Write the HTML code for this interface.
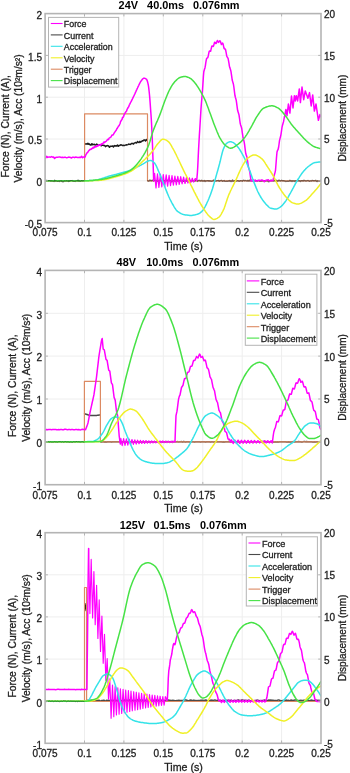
<!DOCTYPE html>
<html><head><meta charset="utf-8"><style>html,body{margin:0;padding:0;background:#fff;}svg{display:block;}</style></head><body>
<svg width="350" height="773" viewBox="0 0 350 773">
<rect width="350" height="773" fill="#fff"/>
<defs><clipPath id="c0"><rect x="45.1" y="13.6" width="275.9" height="209.0"/></clipPath></defs>
<path d="M84.5 13.6V222.6M123.9 13.6V222.6M163.3 13.6V222.6M202.8 13.6V222.6M242.2 13.6V222.6M281.6 13.6V222.6M45.1 180.8H321.0M45.1 139.0H321.0M45.1 97.2H321.0M45.1 55.4H321.0" stroke="#eeeeee" stroke-width="1" fill="none"/>
<g clip-path="url(#c0)" fill="none" stroke-width="1.5" stroke-linejoin="round" stroke-linecap="round">
<path d="M84.7 144L85.5 144.1L86.3 143.8L87.1 144.2L87.9 143.3L88.7 144.3L89.5 143.9L90.3 145L91.1 145.1L91.9 143.7L92.7 144.7L93.5 144.6L94.3 144.2L95.1 145L95.9 144.6L96.7 144.1L97.5 144.8L98.3 145L99.1 145.2L99.9 144.7L100.7 145.6L101.5 145.7L102.3 145L103.1 145.3L103.9 145.6L104.7 145.5L105.5 146.6L106.3 146L107.1 145.6L107.9 145.7L108.7 146.2L109.5 147.3L110.3 146.2L111.1 146.2L111.9 146.3L112.7 146L113.5 147L114.3 145.6L115.1 146.1L115.9 145.8L116.7 145.9L117.5 145L118.3 146.3L119.1 145.4L119.9 145.4L120.7 144.8L121.5 144.9L122.3 145.4L123.1 145.5L123.9 145.3L124.7 145.4L125.5 145.1L126.3 144.7L127.1 144.9L127.9 144.6L128.7 144.1L129.5 144.3L130.3 144.4L131.1 143.8L131.9 143.3L132.7 143.6L133.5 144L134.3 142.9L135.1 142.8L135.9 142.6L136.7 143L137.5 141.5L138.3 142.3L139.1 142.5L139.9 141.4L140.7 142.2L141.5 141.5L142.3 140.8L143.1 140.9L143.9 139.9L144.7 140.1L145.5 140.9L146.3 139.5L147.1 140.5" stroke="#1c1c1c"/>
<path d="M45.6 180.8L84.6 180.8L84.6 113.8L147.5 113.8L147.5 180.8L321 180.8" stroke="#dc8a62" stroke-width="1.2"/>
<path d="M147.8 180.8L148.5 181.2L149.2 180.8L149.9 179.9L150.6 180.6L151.3 180.9L152 180.3L152.7 180.3L153.4 180.9L154.1 180.5L154.8 180.1L155.5 180.5L156.2 181.1L156.9 180.6L157.6 181.2L158.3 181.4L159 180.8L159.7 180.3L160.4 180.3L161.1 180.8L161.8 181.2L162.5 180.9L163.2 181L163.9 180.6L164.6 180.9L165.3 180.6L166 180.7L166.7 180.3L167.4 180.2L168.1 180.6L168.8 180.4L169.5 180.4L170.2 181.1L170.9 180.8L171.6 182L172.3 181.2L173 180.5L173.7 181.1L174.4 180.9L175.1 180.5L175.8 181.2L176.5 180.5L177.2 179.6L177.9 181.1L178.6 180.6L179.3 181.4L180 180.5L180.7 180.3L181.4 181.4L182.1 180.4L182.8 180.9L183.5 181.4L184.2 180.8L184.9 180.8L185.6 180.8L186.3 181.1L187 180.5L187.7 181L188.4 181L189.1 181.7L189.8 180.7L190.5 180.4L191.2 181.1L191.9 180.6L192.6 180.9L193.3 180.9L194 181.3L194.7 180.5L195.4 180.8L196.1 179.8L196.8 180.4L197.5 181.4L198.2 180.5L198.9 180.5L199.6 180.3L200.3 181L201 180.9L201.7 180.3L202.4 181.1L203.1 180.9L203.8 181.1L204.5 180.5L205.2 181.5L205.9 181L206.6 180.8L207.3 180.6L208 180.7L208.7 181.1L209.4 180.7L210.1 181.2L210.8 181L211.5 181.3L212.2 181.1L212.9 180.8L213.6 180L214.3 180.9L215 181.1L215.7 180.9L216.4 181L217.1 180.6L217.8 180.6L218.5 180.4L219.2 181.3L219.9 180.9L220.6 180.6L221.3 180.3L222 180.7L222.7 181.4L223.4 181L224.1 180.5L224.8 181.4L225.5 181.4L226.2 181.2L226.9 181.1L227.6 181.3L228.3 181L229 181.1L229.7 180.5L230.4 181.4L231.1 180.9L231.8 181.6L232.5 180L233.2 181.1L233.9 181.2L234.6 180.7L235.3 181L236 181.1L236.7 181L237.4 180.6L238.1 180.7L238.8 181.2L239.5 181.3L240.2 180.8L240.9 180.8L241.6 180.9L242.3 181.2L243 180.4L243.7 180.3L244.4 180.8L245.1 180.4L245.8 180.6L246.5 180.8L247.2 181L247.9 180.4L248.6 181.1L249.3 180.1L250 181L250.7 180.2L251.4 180.3L252.1 181.1L252.8 180.6L253.5 180.5L254.2 180.6L254.9 181L255.6 180.8L256.3 180.8L257 181.2L257.7 180.5L258.4 180.6L259.1 180.6L259.8 181.3L260.5 181.2L261.2 181.3L261.9 180.8L262.6 180.7L263.3 181.1L264 180.6L264.7 181.1L265.4 181.1L266.1 180.5L266.8 180.8L267.5 180.8L268.2 181.5L268.9 181.8L269.6 180.8L270.3 180.8L271 179.9L271.7 180.9L272.4 180.8L273.1 180.4L273.8 181.1L274.5 180.2L275.2 180.7L275.9 180.9L276.6 180.3L277.3 181.1L278 181.2L278.7 180.2L279.4 180.2L280.1 181L280.8 180.8L281.5 180.3L282.2 180.7L282.9 180.8L283.6 180.7L284.3 181.1L285 181L285.7 181.5L286.4 181.3L287.1 181.1L287.8 181.2L288.5 181.3L289.2 181.1L289.9 180.3L290.6 181.1L291.3 180.8L292 181.4L292.7 180.8L293.4 181L294.1 180.9L294.8 181.5L295.5 180.9L296.2 180.7L296.9 180.9L297.6 180.6L298.3 180.9L299 180.8L299.7 180.9L300.4 181.6L301.1 180.6L301.8 180.8L302.5 180.7L303.2 181.1L303.9 180.3L304.6 180.5L305.3 180.8L306 181L306.7 180.8L307.4 180.6L308.1 180.5L308.8 181L309.5 181.4L310.2 180.9L310.9 180.9L311.6 181L312.3 180.4L313 180.7L313.7 180.7L314.4 180.9L315.1 180.8L315.8 180.3L316.5 181.3L317.2 181.5L317.9 180.7L318.6 181L319.3 180.9L320 181.1L320.7 180.2" stroke="#2a1a12" stroke-width="1.4" stroke-opacity="0.55"/>
<path d="M45.6 158L46.6 156.4L47.6 157.4L48.6 157.1L49.6 157.1L50.6 157.2L51.6 156.6L52.6 157.2L53.6 157L54.6 158.5L55.6 157.4L56.6 157.2L57.6 157.2L58.6 157.1L59.6 156.9L60.6 157.2L61.6 157.5L62.6 157.2L63.6 157.6L64.6 157.2L65.6 157.3L66.6 157.8L67.6 157.5L68.6 157.1L69.6 157.2L70.6 157.5L71.6 158L72.6 157.2L73.6 157.2L74.6 157.7L75.6 157L76.6 157.2L77.6 157.6L78.6 157.5L79.6 157.3L80.6 157.5L81.6 156.3L82.6 157.7L83.6 157L84.6 156.7L84.6 157.4L85.1 156.8L85.6 155.6L86.1 154.3L86.6 153.7L87.1 152.7L87.6 152.6L88.1 151.7L88.6 150.8L89.1 150.5L89.6 149.8L90.1 149.3L90.6 149.5L91.1 149.3L91.6 148.7L92.1 148.3L92.6 148.4L93.1 147.2L93.6 148L94.1 147.7L94.6 146.7L95.1 147L95.6 146.5L96.1 146.9L96.6 145.7L97.1 145.8L97.6 146.2L98.1 146.1L98.6 144.8L99.1 145.1L99.6 145.2L100.1 144.7L100.6 145.2L101.1 144L101.6 144.4L102.1 143.5L102.6 144L103.1 143.2L103.6 142.7L104.1 141.8L104.6 142.6L105.1 142L105.6 141.6L106.1 141.3L106.6 140.7L107.1 140L107.6 139.6L108.1 139.2L108.6 139.6L109.1 138.1L109.6 137.9L110.1 137.5L110.6 137.2L111.1 136.8L111.6 135.7L112.1 135L112.6 135.1L113.1 135L113.6 134.1L114.1 133.2L114.6 132.3L115.1 131.8L115.6 130.9L116.1 130.5L116.6 129.2L117.1 128.6L117.6 127.6L118.1 126.9L118.6 125.9L119.1 125.8L119.6 124.5L120.1 123.5L120.6 121.3L121.1 120.9L121.6 119.9L122.1 119.3L122.6 117.3L123.1 117.5L123.6 116.5L124.1 114.7L124.6 113.9L125.1 112.9L125.6 112.3L126.1 111.5L126.6 111L127.1 109.2L127.6 108.6L128.1 107.4L128.6 107L129.1 105.7L129.1 105.4L129.4 104.8L129.7 104.3L130 103.7L130.3 103.1L130.6 102.5L130.9 101.9L131.2 101.4L131.5 100.8L131.8 100.2L132.1 99.6L132.4 99L132.7 98.4L133 97.7L133.3 97.1L133.6 96.5L133.9 95.9L134.2 95.2L134.5 94.6L134.8 93.9L135.1 93.3L135.4 92.6L135.7 91.9L136 91.3L136.3 90.6L136.6 89.9L136.9 89.3L137.2 88.6L137.5 88L137.8 87.3L138.1 86.7L138.4 86.1L138.7 85.5L139 84.8L139.3 84.2L139.6 83.6L139.9 83L140.2 82.4L140.5 81.9L140.8 81.4L141.1 81L141.4 80.6L141.7 80.2L142 79.8L142.3 79.4L142.6 79.1L142.9 78.8L143.2 78.5L143.5 78.3L143.8 78.2L144.1 78.2L144.4 78.2L144.7 78.3L145 78.4L145.3 78.5L145.6 78.7L145.9 78.9L146.2 79.1L146.5 79.3L146.8 79.7L147.1 80.4L147.4 81.3L147.7 82.4L148 83.6L148.3 85L148.6 86.9L148.9 89.3L149.2 92L149.5 95L149.8 98.4L150.1 102.4L150.4 106.6L150.7 110.7L151 114.8L151.3 119.3L151.6 124.6L151.9 130.8L152.2 137.6L152.5 145.3L152.8 154L153.1 162.9L153.4 171.9L153.6 178L153.6 180.8" stroke="#ff00ff" stroke-width="1.5"/>
<path d="M153.6 180.8L154.6 173.4L156 187.9L157.5 173.8L158.9 187.5L160.4 174.2L161.8 187L163.3 174.5L164.7 186.6L166.2 174.9L167.6 186.1L169.1 175.3L170.5 185.7L172 175.6L173.4 185.2L174.9 176L176.3 184.8L177.8 176.4L179.2 184.4L180.7 176.7L182.1 183.9L183.6 177.1L185 183.5L186.5 177.4L187.9 183L189.4 177.8L190.8 182.6L192.3 178.2L193.7 182.1L195.2 178.5L196.6 180.2" stroke="#ff00ff" stroke-width="1.2"/>
<path d="M196.6 180.2L196.6 180.6L197 177.3L197.4 172.8L197.8 165.9L198.2 157.1L198.6 148.9L199 141.7L199.4 134.6L199.8 128.5L200.2 122L200.6 115.5L201 108.9L201.4 103.5L201.8 98.7L202.2 94L202.6 88.9L203 82.6L203.4 76.3L203.8 71.7L204.2 70.2L204.6 68.9L205 67.7L205.4 65.6L205.8 62.7L206.2 60.3L206.6 58.5L207 58.2L207.4 57.9L207.8 57.6L208.2 56L208.6 54.1L209 52.1L209.4 51.1L209.8 51.1L210.2 51.2L210.6 51.2L211 49.6L211.4 47.9L211.8 46.3L212.2 45.9L212.6 46.1L213 46.4L213.4 46.3L213.8 45L214.2 43.6L214.6 42.2L215 42.3L215.4 43L215.8 43.6L216.2 43.4L216.6 42.4L217 41.3L217.4 40.5L217.8 41.1L218.2 41.8L218.6 42.4L219 41.8L219.4 41.3L219.8 40.8L220.2 41L220.6 42.1L221 43.3L221.4 44.5L221.8 44L222.2 43.5L222.6 43.1L223 43.6L223.4 45.4L223.8 47.3L224.2 48.7L224.6 48.9L225 49L225.4 49.2L225.8 50.8L226.2 52.9L226.6 55.2L227 56.7L227.4 57.3L227.8 57.9L228.2 58.8L228.6 61.1L229 63.4L229.4 66.1L229.8 67.6L230.2 68.7L230.6 69.9L231 71.6L231.4 74.3L231.8 77.1L232.2 80L232.6 81.4L233 82.7L233.4 84.1L233.8 86.5L234.2 89.6L234.6 92.9L235 95.8L235.4 97.4L235.8 98.8L236.2 100.1L236.6 102.9L237 105.9L237.4 109L237.8 111.1L238.2 112.3L238.6 113.5L239 114.9L239.4 117.7L239.8 120.5L240.2 123.3L240.6 124.9L241 126L241.4 127.2L241.8 129L242.2 131.8L242.6 134.7L243 137.5L243.4 139L243.8 140.5L244.2 142.1L244.6 144.7L245 147.9L245.4 151.1L245.8 153.8L246.2 154.9L246.6 156.1L247 157.3L247.4 159.9L247.8 162.7L248.2 165.5L248.6 167.6L249 169L249.4 170.4L249.8 172L250.2 175L250.6 178L251 180.6L251.4 180.8L251.8 180.5L252.3 181.2L253.3 180L254.3 180.4L255.3 180.1L256.3 181.3L257.3 180.8L258.3 180.3L259.3 180.3L260.3 180.7L261.3 180.1L262.3 180L263.3 180.7L264.3 181.7L265.3 180.4L266.3 180.2L267.3 179.9L268.3 179.8L269.3 180.8L270.3 180.9L271.3 180.5L272.3 180.7L272.5 180.6L273 180.3L273.5 178.2L274 176.1L274.5 174.2L275 172.6L275.5 170.3L276 164L276.5 157.5L277 152L277.5 150.5L278 149.7L278.5 147.8L279 144.5L279.5 140.6L280 138.6L280.5 136.6L281 134.3L281.5 130.9L282 127.3L282.5 125.2L283 123.5L283.5 121.9L284 119.1L284.5 116.2L284.5 117L285.9 109.4L287 115.7L288.4 104L289.9 113.1L291.5 96L293 108L294.4 95.7L295.3 100.9L296.3 95.7L297.6 100.9L299.3 88.9L300.4 102.6L302 87L303.7 99.7L305.3 90.9L307.9 98.3L309.5 92.6L311.2 106L312.7 94.9L314.4 111.1L316 104L318.4 120.3L319.9 114.6L321 117" stroke="#ff00ff" stroke-width="1.5"/>
<path d="M45.6 180.8L46.2 180.8L46.8 180.8L47.4 180.8L48 180.8L48.6 180.8L49.2 180.8L49.8 180.8L50.4 180.8L51 180.8L51.6 180.8L52.2 180.8L52.8 180.8L53.4 180.8L54 180.8L54.6 180.8L55.2 180.8L55.8 180.8L56.4 180.8L57 180.8L57.6 180.8L58.2 180.8L58.8 180.8L59.4 180.8L60 180.8L60.6 180.8L61.2 180.8L61.8 180.8L62.4 180.8L63 180.8L63.6 180.8L64.2 180.8L64.8 180.8L65.4 180.8L66 180.8L66.6 180.8L67.2 180.8L67.8 180.8L68.4 180.8L69 180.8L69.6 180.8L70.2 180.8L70.8 180.8L71.4 180.8L72 180.8L72.6 180.8L73.2 180.8L73.8 180.8L74.4 180.8L75 180.8L75.6 180.8L76.2 180.8L76.8 180.8L77.4 180.8L78 180.8L78.6 180.8L79.2 180.8L79.8 180.8L80.4 180.8L81 180.8L81.6 180.8L82.2 180.8L82.8 180.8L83.4 180.8L84 180.8L84.6 180.8L85.2 180.8L85.8 180.8L86.4 180.8L87 180.8L87.6 180.7L88.2 180.7L88.8 180.7L89.4 180.6L90 180.6L90.6 180.6L91.2 180.5L91.8 180.5L92.4 180.4L93 180.4L93.6 180.3L94.2 180.3L94.8 180.2L95.4 180.2L96 180.1L96.6 180L97.2 179.9L97.8 179.7L98.4 179.6L99 179.5L99.6 179.3L100.2 179.1L100.8 178.9L101.4 178.7L102 178.5L102.6 178.3L103.2 178.1L103.8 177.9L104.4 177.7L105 177.5L105.6 177.3L106.2 177.1L106.8 176.9L107.4 176.7L108 176.5L108.6 176.3L109.2 176.1L109.8 176L110.4 175.8L111 175.7L111.6 175.5L112.2 175.3L112.8 175.2L113.4 175L114 174.9L114.6 174.7L115.2 174.6L115.8 174.4L116.4 174.3L117 174.1L117.6 174L118.2 173.8L118.8 173.6L119.4 173.5L120 173.3L120.6 173.1L121.2 173L121.8 172.8L122.4 172.6L123 172.5L123.6 172.3L124.2 172.1L124.8 172L125.4 171.8L126 171.6L126.6 171.4L127.2 171.3L127.8 171.1L128.4 170.9L129 170.7L129.6 170.5L130.2 170.2L130.8 170L131.4 169.8L132 169.5L132.6 169.3L133.2 169L133.8 168.7L134.4 168.4L135 168.1L135.6 167.8L136.2 167.5L136.8 167.2L137.4 166.9L138 166.6L138.6 166.3L139.2 166L139.8 165.7L140.4 165.4L141 165.1L141.6 164.7L142.2 164.4L142.8 164.1L143.4 163.7L144 163.4L144.6 163L145.2 162.6L145.8 162.2L146.4 161.9L147 161.5L147.6 161.3L148.2 161L148.8 160.8L149.4 160.6L150 160.4L150.6 160.4L151.2 160.5L151.8 160.8L152.4 161.2L153 161.6L153.6 162.2L154.2 162.8L154.8 163.4L155.4 164.3L156 165.3L156.6 166.6L157.2 168L157.8 169.4L158.4 170.9L159 172.3L159.6 173.7L160.2 175.1L160.8 176.6L161.4 178.1L162 179.7L162.6 181.2L163.2 182.7L163.8 184.3L164.4 185.8L165 187.3L165.6 188.9L166.2 190.4L166.8 191.9L167.4 193.4L168 194.8L168.6 196.2L169.2 197.5L169.8 198.8L170.4 200L171 201.2L171.6 202.4L172.2 203.5L172.8 204.5L173.4 205.5L174 206.6L174.6 207.6L175.2 208.5L175.8 209.4L176.4 210.2L177 210.9L177.6 211.4L178.2 211.8L178.8 212.2L179.4 212.6L180 213L180.6 213.3L181.2 213.7L181.8 213.9L182.4 214.2L183 214.4L183.6 214.6L184.2 214.7L184.8 214.8L185.4 214.9L186 215L186.6 215.1L187.2 215.1L187.8 215.2L188.4 215.3L189 215.3L189.6 215.4L190.2 215.4L190.8 215.4L191.4 215.4L192 215.4L192.6 215.3L193.2 215.2L193.8 215.1L194.4 215L195 214.9L195.6 214.7L196.2 214.6L196.8 214.4L197.4 214.2L198 214L198.6 213.8L199.2 213.5L199.8 213.1L200.4 212.6L201 212.1L201.6 211.6L202.2 211L202.8 210.4L203.4 209.6L204 208.7L204.6 207.6L205.2 206.5L205.8 205.3L206.4 204.1L207 202.8L207.6 201.5L208.2 200.2L208.8 198.8L209.4 197.3L210 195.8L210.6 194.2L211.2 192.5L211.8 190.8L212.4 189L213 187L213.6 185L214.2 182.9L214.8 180.8L215.4 178.6L216 176.5L216.6 174.4L217.2 172.3L217.8 170.2L218.4 168L219 165.8L219.6 163.6L220.2 161.3L220.8 158.7L221.4 156.1L222 153.7L222.6 151.4L223.2 149.5L223.8 148.1L224.4 146.8L225 145.6L225.6 144.6L226.2 143.7L226.8 143.1L227.4 142.8L228 142.4L228.6 142.1L229.2 141.9L229.8 141.8L230.4 141.7L231 141.8L231.6 141.9L232.2 142.2L232.8 142.4L233.4 142.7L234 143.1L234.6 143.5L235.2 144.1L235.8 144.6L236.4 145.3L237 146L237.6 146.7L238.2 147.4L238.8 148.2L239.4 149.1L240 150L240.6 151L241.2 152L241.8 153.1L242.4 154.2L243 155.3L243.6 156.4L244.2 157.6L244.8 158.8L245.4 160.1L246 161.4L246.6 162.8L247.2 164.2L247.8 165.6L248.4 167.1L249 168.6L249.6 170.2L250.2 171.8L250.8 173.5L251.4 175.3L252 177L252.6 178.7L253.2 180.4L253.8 181.9L254.4 183.4L255 184.9L255.6 186.4L256.2 187.9L256.8 189.3L257.4 190.7L258 192L258.6 193.2L259.2 194.4L259.8 195.4L260.4 196.5L261 197.5L261.6 198.4L262.2 199.3L262.8 200.2L263.4 201L264 201.8L264.6 202.6L265.2 203.3L265.8 204L266.4 204.6L267 205.2L267.6 205.8L268.2 206.4L268.8 207L269.4 207.5L270 207.9L270.6 208.2L271.2 208.3L271.8 208.5L272.4 208.6L273 208.7L273.6 208.8L274.2 208.9L274.8 209L275.4 209L276 209L276.6 208.9L277.2 208.8L277.8 208.6L278.4 208.2L279 207.9L279.6 207.5L280.2 207.1L280.8 206.6L281.4 206.2L282 205.7L282.6 205L283.2 204.3L283.8 203.6L284.4 202.8L285 202L285.6 201.2L286.2 200.3L286.8 199.3L287.4 198.3L288 197.3L288.6 196.3L289.2 195.2L289.8 194.1L290.4 193.1L291 192L291.6 190.9L292.2 189.8L292.8 188.7L293.4 187.6L294 186.4L294.6 185.3L295.2 184.2L295.8 183.1L296.4 182L297 181L297.6 180L298.2 179L298.8 178.1L299.4 177.1L300 176.2L300.6 175.3L301.2 174.4L301.8 173.5L302.4 172.7L303 172L303.6 171.3L304.2 170.6L304.8 169.9L305.4 169.3L306 168.6L306.6 168L307.2 167.5L307.8 166.9L308.4 166.5L309 166L309.6 165.6L310.2 165.1L310.8 164.7L311.4 164.3L312 163.9L312.6 163.5L313.2 163.2L313.8 162.9L314.4 162.7L315 162.6L315.6 162.5L316.2 162.4L316.8 162.3L317.4 162.2L318 162.2L318.6 162.1L319.2 162.1L319.8 162L320.4 162L321 162" stroke="#35e3e8"/>
<path d="M45.6 180.8L46.2 180.8L46.8 180.8L47.4 180.8L48 180.8L48.6 180.8L49.2 180.8L49.8 180.8L50.4 180.8L51 180.8L51.6 180.8L52.2 180.8L52.8 180.8L53.4 180.8L54 180.8L54.6 180.8L55.2 180.8L55.8 180.8L56.4 180.8L57 180.8L57.6 180.8L58.2 180.8L58.8 180.8L59.4 180.8L60 180.8L60.6 180.8L61.2 180.8L61.8 180.8L62.4 180.8L63 180.8L63.6 180.8L64.2 180.8L64.8 180.8L65.4 180.8L66 180.8L66.6 180.8L67.2 180.8L67.8 180.8L68.4 180.8L69 180.8L69.6 180.8L70.2 180.8L70.8 180.8L71.4 180.8L72 180.8L72.6 180.8L73.2 180.8L73.8 180.8L74.4 180.8L75 180.8L75.6 180.8L76.2 180.8L76.8 180.8L77.4 180.8L78 180.8L78.6 180.8L79.2 180.8L79.8 180.8L80.4 180.8L81 180.8L81.6 180.8L82.2 180.8L82.8 180.8L83.4 180.8L84 180.8L84.6 180.8L85.2 180.8L85.8 180.8L86.4 180.8L87 180.8L87.6 180.8L88.2 180.8L88.8 180.8L89.4 180.7L90 180.7L90.6 180.7L91.2 180.7L91.8 180.7L92.4 180.7L93 180.6L93.6 180.6L94.2 180.6L94.8 180.6L95.4 180.5L96 180.5L96.6 180.5L97.2 180.4L97.8 180.4L98.4 180.4L99 180.4L99.6 180.3L100.2 180.3L100.8 180.2L101.4 180.2L102 180.1L102.6 180L103.2 179.9L103.8 179.8L104.4 179.7L105 179.6L105.6 179.5L106.2 179.4L106.8 179.2L107.4 179.1L108 178.9L108.6 178.8L109.2 178.6L109.8 178.4L110.4 178.3L111 178.1L111.6 177.9L112.2 177.8L112.8 177.6L113.4 177.4L114 177.3L114.6 177.1L115.2 176.9L115.8 176.8L116.4 176.6L117 176.5L117.6 176.3L118.2 176.1L118.8 175.9L119.4 175.8L120 175.6L120.6 175.4L121.2 175.2L121.8 175L122.4 174.8L123 174.6L123.6 174.4L124.2 174.2L124.8 174L125.4 173.8L126 173.5L126.6 173.3L127.2 173L127.8 172.8L128.4 172.5L129 172.2L129.6 171.9L130.2 171.6L130.8 171.3L131.4 171L132 170.6L132.6 170.2L133.2 169.8L133.8 169.4L134.4 168.9L135 168.5L135.6 168L136.2 167.4L136.8 166.9L137.4 166.4L138 165.8L138.6 165.3L139.2 164.7L139.8 164.1L140.4 163.6L141 163L141.6 162.4L142.2 161.8L142.8 161.2L143.4 160.7L144 160.1L144.6 159.5L145.2 159L145.8 158.4L146.4 157.8L147 157.2L147.6 156.6L148.2 156L148.8 155.4L149.4 154.7L150 154.1L150.6 153.4L151.2 152.8L151.8 152.1L152.4 151.3L153 150.6L153.6 149.8L154.2 149L154.8 148.1L155.4 147.1L156 146.2L156.6 145.3L157.2 144.5L157.8 143.7L158.4 143.1L159 142.4L159.6 141.7L160.2 141L160.8 140.4L161.4 139.9L162 139.5L162.6 139.2L163.2 139.2L163.8 139.3L164.4 139.4L165 139.6L165.6 139.9L166.2 140.2L166.8 140.5L167.4 140.9L168 141.3L168.6 141.8L169.2 142.5L169.8 143.3L170.4 144.2L171 145.2L171.6 146.2L172.2 147.3L172.8 148.3L173.4 149.4L174 150.5L174.6 151.6L175.2 152.8L175.8 154L176.4 155.2L177 156.5L177.6 157.7L178.2 159L178.8 160.2L179.4 161.5L180 162.8L180.6 164.1L181.2 165.4L181.8 166.7L182.4 167.9L183 169.1L183.6 170.4L184.2 171.6L184.8 172.8L185.4 174L186 175.1L186.6 176.3L187.2 177.5L187.8 178.7L188.4 179.9L189 181.1L189.6 182.3L190.2 183.5L190.8 184.8L191.4 186L192 187.2L192.6 188.4L193.2 189.7L193.8 190.9L194.4 192.1L195 193.2L195.6 194.4L196.2 195.6L196.8 196.7L197.4 197.9L198 199L198.6 200.1L199.2 201.3L199.8 202.4L200.4 203.4L201 204.5L201.6 205.5L202.2 206.5L202.8 207.4L203.4 208.3L204 209.3L204.6 210.2L205.2 211.1L205.8 212L206.4 212.8L207 213.6L207.6 214.4L208.2 215.1L208.8 215.7L209.4 216.3L210 216.8L210.6 217.4L211.2 217.9L211.8 218.4L212.4 218.9L213 219.2L213.6 219.4L214.2 219.4L214.8 219.3L215.4 219.2L216 218.9L216.6 218.6L217.2 218.3L217.8 217.9L218.4 217.5L219 217.1L219.6 216.5L220.2 215.7L220.8 214.8L221.4 213.8L222 212.7L222.6 211.6L223.2 210.4L223.8 209.1L224.4 207.6L225 205.9L225.6 204.1L226.2 202.3L226.8 200.4L227.4 198.6L228 196.9L228.6 195.3L229.2 193.9L229.8 192.6L230.4 191.2L231 190L231.6 188.7L232.2 187.5L232.8 186.3L233.4 185.1L234 183.9L234.6 182.7L235.2 181.4L235.8 180.2L236.4 178.9L237 177.5L237.6 176.2L238.2 174.8L238.8 173.4L239.4 172.1L240 170.8L240.6 169.5L241.2 168.2L241.8 167.1L242.4 166L243 164.9L243.6 163.9L244.2 162.8L244.8 161.8L245.4 160.9L246 160L246.6 159.3L247.2 158.6L247.8 158.1L248.4 157.7L249 157.3L249.6 156.8L250.2 156.4L250.8 156.1L251.4 155.7L252 155.5L252.6 155.2L253.2 155L253.8 154.9L254.4 154.9L255 154.9L255.6 155L256.2 155.2L256.8 155.5L257.4 155.7L258 156.1L258.6 156.4L259.2 156.8L259.8 157.2L260.4 157.6L261 158.1L261.6 158.5L262.2 159.1L262.8 159.7L263.4 160.5L264 161.3L264.6 162.2L265.2 163.1L265.8 164.1L266.4 165L267 166L267.6 166.9L268.2 167.8L268.8 168.7L269.4 169.7L270 170.6L270.6 171.5L271.2 172.5L271.8 173.5L272.4 174.5L273 175.5L273.6 176.5L274.2 177.7L274.8 178.8L275.4 180L276 181.3L276.6 182.5L277.2 183.7L277.8 184.9L278.4 186L279 187L279.6 188L280.2 188.9L280.8 189.9L281.4 190.8L282 191.7L282.6 192.5L283.2 193.4L283.8 194.2L284.4 195L285 195.7L285.6 196.5L286.2 197.1L286.8 197.8L287.4 198.4L288 199L288.6 199.7L289.2 200.3L289.8 200.8L290.4 201.4L291 201.9L291.6 202.3L292.2 202.7L292.8 202.9L293.4 203.1L294 203.3L294.6 203.5L295.2 203.6L295.8 203.8L296.4 203.9L297 203.9L297.6 204L298.2 204L298.8 203.9L299.4 203.8L300 203.6L300.6 203.4L301.2 203.2L301.8 202.9L302.4 202.5L303 202.2L303.6 201.8L304.2 201.5L304.8 201.1L305.4 200.7L306 200.3L306.6 199.8L307.2 199.3L307.8 198.7L308.4 198.1L309 197.5L309.6 196.8L310.2 196.2L310.8 195.5L311.4 194.8L312 194.1L312.6 193.4L313.2 192.8L313.8 192.1L314.4 191.5L315 190.8L315.6 190.1L316.2 189.4L316.8 188.7L317.4 188L318 187.2L318.6 186.5L319.2 185.8L319.8 185L320.4 184.3L321 183.5" stroke="#f0f028"/>
<path d="M45.6 180.8L46.2 180.8L46.8 180.8L47.4 180.8L48 180.8L48.6 180.8L49.2 180.8L49.8 180.8L50.4 180.8L51 180.8L51.6 180.8L52.2 180.8L52.8 180.8L53.4 180.8L54 180.8L54.6 180.8L55.2 180.8L55.8 180.8L56.4 180.8L57 180.8L57.6 180.8L58.2 180.8L58.8 180.8L59.4 180.8L60 180.8L60.6 180.8L61.2 180.8L61.8 180.8L62.4 180.8L63 180.8L63.6 180.8L64.2 180.8L64.8 180.8L65.4 180.8L66 180.8L66.6 180.8L67.2 180.8L67.8 180.8L68.4 180.8L69 180.8L69.6 180.8L70.2 180.8L70.8 180.8L71.4 180.8L72 180.8L72.6 180.8L73.2 180.8L73.8 180.8L74.4 180.8L75 180.8L75.6 180.8L76.2 180.8L76.8 180.8L77.4 180.8L78 180.8L78.6 180.8L79.2 180.8L79.8 180.8L80.4 180.8L81 180.8L81.6 180.8L82.2 180.8L82.8 180.8L83.4 180.8L84 180.8L84.6 180.8L85.2 180.8L85.8 180.8L86.4 180.8L87 180.8L87.6 180.7L88.2 180.7L88.8 180.7L89.4 180.6L90 180.6L90.6 180.6L91.2 180.5L91.8 180.5L92.4 180.4L93 180.4L93.6 180.3L94.2 180.2L94.8 180.2L95.4 180.1L96 180.1L96.6 180L97.2 179.9L97.8 179.9L98.4 179.8L99 179.7L99.6 179.6L100.2 179.6L100.8 179.5L101.4 179.4L102 179.3L102.6 179.2L103.2 179.1L103.8 179L104.4 178.9L105 178.7L105.6 178.6L106.2 178.5L106.8 178.3L107.4 178.2L108 178L108.6 177.9L109.2 177.7L109.8 177.6L110.4 177.4L111 177.2L111.6 177.1L112.2 176.9L112.8 176.7L113.4 176.6L114 176.4L114.6 176.2L115.2 176L115.8 175.9L116.4 175.7L117 175.5L117.6 175.4L118.2 175.2L118.8 175L119.4 174.8L120 174.7L120.6 174.5L121.2 174.3L121.8 174.1L122.4 173.9L123 173.7L123.6 173.4L124.2 173.2L124.8 173L125.4 172.8L126 172.5L126.6 172.2L127.2 172L127.8 171.7L128.4 171.4L129 171.1L129.6 170.8L130.2 170.5L130.8 170.1L131.4 169.7L132 169.2L132.6 168.7L133.2 168.2L133.8 167.6L134.4 167L135 166.4L135.6 165.7L136.2 165.1L136.8 164.4L137.4 163.7L138 163L138.6 162.3L139.2 161.5L139.8 160.7L140.4 159.9L141 159.1L141.6 158.2L142.2 157.2L142.8 156.3L143.4 155.3L144 154.4L144.6 153.3L145.2 152.3L145.8 151.2L146.4 150L147 148.8L147.6 147.6L148.2 146.2L148.8 144.8L149.4 143.1L150 141.3L150.6 139.2L151.2 137.1L151.8 135.1L152.4 133.1L153 131.3L153.6 129.6L154.2 128.1L154.8 126.6L155.4 125.2L156 123.8L156.6 122.4L157.2 121.1L157.8 119.7L158.4 118.3L159 116.9L159.6 115.4L160.2 113.9L160.8 112.3L161.4 110.6L162 108.9L162.6 107.1L163.2 105.4L163.8 103.7L164.4 102.1L165 100.5L165.6 99L166.2 97.5L166.8 96L167.4 94.5L168 93.1L168.6 91.8L169.2 90.5L169.8 89.4L170.4 88.3L171 87.2L171.6 86.2L172.2 85.2L172.8 84.3L173.4 83.5L174 82.7L174.6 81.9L175.2 81.3L175.8 80.7L176.4 80.1L177 79.5L177.6 79L178.2 78.5L178.8 78.1L179.4 77.7L180 77.5L180.6 77.3L181.2 77.1L181.8 77L182.4 76.8L183 76.7L183.6 76.6L184.2 76.5L184.8 76.5L185.4 76.5L186 76.6L186.6 76.8L187.2 77L187.8 77.2L188.4 77.4L189 77.7L189.6 78L190.2 78.3L190.8 78.7L191.4 79.1L192 79.7L192.6 80.3L193.2 80.9L193.8 81.6L194.4 82.3L195 83L195.6 83.7L196.2 84.5L196.8 85.4L197.4 86.3L198 87.2L198.6 88.2L199.2 89.2L199.8 90.2L200.4 91.2L201 92.2L201.6 93.3L202.2 94.4L202.8 95.5L203.4 96.7L204 97.9L204.6 99.1L205.2 100.4L205.8 101.8L206.4 103.3L207 104.9L207.6 106.5L208.2 108.1L208.8 109.8L209.4 111.4L210 113L210.6 114.6L211.2 116.3L211.8 117.9L212.4 119.6L213 121.2L213.6 122.9L214.2 124.5L214.8 126L215.4 127.5L216 129L216.6 130.5L217.2 132L217.8 133.4L218.4 134.8L219 136.1L219.6 137.3L220.2 138.3L220.8 139.4L221.4 140.4L222 141.3L222.6 142.2L223.2 143.1L223.8 143.8L224.4 144.5L225 145L225.6 145.5L226.2 146L226.8 146.4L227.4 146.9L228 147.2L228.6 147.6L229.2 147.9L229.8 148.1L230.4 148.2L231 148.2L231.6 148.1L232.2 148L232.8 147.7L233.4 147.4L234 147.1L234.6 146.7L235.2 146.3L235.8 145.9L236.4 145.4L237 145L237.6 144.5L238.2 144.1L238.8 143.6L239.4 143.1L240 142.6L240.6 142.1L241.2 141.5L241.8 140.9L242.4 140.2L243 139.5L243.6 138.9L244.2 138.1L244.8 137.4L245.4 136.6L246 135.7L246.6 134.8L247.2 133.8L247.8 132.8L248.4 131.8L249 130.8L249.6 129.7L250.2 128.7L250.8 127.7L251.4 126.6L252 125.5L252.6 124.4L253.2 123.2L253.8 122.1L254.4 120.9L255 119.8L255.6 118.7L256.2 117.6L256.8 116.7L257.4 115.8L258 114.9L258.6 114L259.2 113.1L259.8 112.2L260.4 111.4L261 110.6L261.6 109.9L262.2 109.3L262.8 108.7L263.4 108.3L264 108L264.6 107.7L265.2 107.5L265.8 107.2L266.4 107L267 106.8L267.6 106.6L268.2 106.4L268.8 106.2L269.4 106.1L270 106L270.6 105.9L271.2 105.8L271.8 105.8L272.4 105.8L273 105.9L273.6 106L274.2 106.2L274.8 106.4L275.4 106.7L276 107L276.6 107.3L277.2 107.6L277.8 107.9L278.4 108.2L279 108.6L279.6 109.1L280.2 109.7L280.8 110.3L281.4 110.9L282 111.6L282.6 112.3L283.2 113L283.8 113.8L284.4 114.5L285 115.3L285.6 116L286.2 116.8L286.8 117.6L287.4 118.4L288 119.3L288.6 120.2L289.2 121.1L289.8 121.9L290.4 122.8L291 123.7L291.6 124.5L292.2 125.3L292.8 126L293.4 126.7L294 127.4L294.6 128.1L295.2 128.8L295.8 129.5L296.4 130.1L297 130.8L297.6 131.4L298.2 132.1L298.8 132.7L299.4 133.4L300 134.1L300.6 134.8L301.2 135.4L301.8 136.1L302.4 136.8L303 137.4L303.6 138.1L304.2 138.7L304.8 139.3L305.4 139.9L306 140.5L306.6 141L307.2 141.6L307.8 142.1L308.4 142.6L309 143.1L309.6 143.6L310.2 144L310.8 144.5L311.4 144.9L312 145.4L312.6 145.8L313.2 146.1L313.8 146.5L314.4 146.8L315 147L315.6 147.2L316.2 147.4L316.8 147.6L317.4 147.8L318 148L318.6 148.1L319.2 148.3L319.8 148.4L320.4 148.5L321 148.5" stroke="#46e246"/>
<path d="M45.6 181L46.2 181L46.8 180.2L47.4 180.7L48 181L48.6 180.5L49.2 180.7L49.8 180.5L50.4 180.7L51 181.3L51.6 180.7L52.2 180.8L52.8 181.3L53.4 181.2L54 181.7L54.6 180L55.2 181.3L55.8 180.7L56.4 181L57 181.3L57.6 181.4L58.2 181.4L58.8 181L59.4 181.6L60 180.8L60.6 180.8L61.2 181.3L61.8 180.7L62.4 181.9L63 181.4L63.6 181.9L64.2 180.9L64.8 180.7L65.4 181L66 181.2L66.6 180.6L67.2 181.1L67.8 180.9L68.4 181.6L69 180.6L69.6 181.4L70.2 180.6L70.8 180.5L71.4 180.6L72 180.4L72.6 181L73.2 181.4L73.8 181L74.4 181.2L75 181.6L75.6 181L76.2 181L76.8 180.8L77.4 180.2L78 181.2L78.6 180.1L79.2 181.2L79.8 180.9L80.4 181.4L81 180.9L81.6 180.5L82.2 181.1L82.8 180.6L83.4 180.8L84 180.9" stroke="#1a2a1a" stroke-width="1.1" stroke-opacity="0.55"/>
</g>
<rect x="45.1" y="13.6" width="275.9" height="209.0" fill="none" stroke="#b4b4b4" stroke-width="1.6"/>
<path d="M84.5 222.6v-2.8M84.5 13.6v2.8M123.9 222.6v-2.8M123.9 13.6v2.8M163.3 222.6v-2.8M163.3 13.6v2.8M202.8 222.6v-2.8M202.8 13.6v2.8M242.2 222.6v-2.8M242.2 13.6v2.8M281.6 222.6v-2.8M281.6 13.6v2.8M45.1 180.8h2.8M321.0 180.8h-2.8M45.1 139.0h2.8M321.0 139.0h-2.8M45.1 97.2h2.8M321.0 97.2h-2.8M45.1 55.4h2.8M321.0 55.4h-2.8" stroke="#b4b4b4" stroke-width="1"/>
<g font-family='"Liberation Sans", Arial, sans-serif' font-size="10" fill="#1e1e1e" stroke="#1e1e1e" stroke-width="0.3">
<text x="42" y="227.9" text-anchor="end">-0.5</text>
<text x="324" y="227.0">-5</text>
<text x="42" y="186.1" text-anchor="end">0</text>
<text x="324" y="185.2">0</text>
<text x="42" y="144.3" text-anchor="end">0.5</text>
<text x="324" y="143.4">5</text>
<text x="42" y="102.5" text-anchor="end">1</text>
<text x="324" y="101.6">10</text>
<text x="42" y="60.7" text-anchor="end">1.5</text>
<text x="324" y="59.8">15</text>
<text x="42" y="18.9" text-anchor="end">2</text>
<text x="324" y="18.0">20</text>
<text x="45.1" y="236.4" text-anchor="middle">0.075</text>
<text x="84.5" y="236.4" text-anchor="middle">0.1</text>
<text x="123.9" y="236.4" text-anchor="middle">0.125</text>
<text x="163.3" y="236.4" text-anchor="middle">0.15</text>
<text x="202.8" y="236.4" text-anchor="middle">0.175</text>
<text x="242.2" y="236.4" text-anchor="middle">0.2</text>
<text x="281.6" y="236.4" text-anchor="middle">0.225</text>
<text x="321.0" y="236.4" text-anchor="middle">0.25</text>
<text x="183.5" y="249.9" text-anchor="middle" font-size="10.3" textLength="38.6" lengthAdjust="spacingAndGlyphs">Time (s)</text>
<text transform="translate(8.7 126.3) rotate(-90)" text-anchor="middle" font-size="10.25">Force (N), Current (A),</text>
<text transform="translate(22.1 118.4) rotate(-90)" text-anchor="middle" font-size="10.25">Velocity (m/s), Acc (10²m/s²)</text>
<text transform="translate(346.3 118.1) rotate(-90)" text-anchor="middle">Displacement (mm)</text>
</g>
<g font-family='"Liberation Sans", Arial, sans-serif' font-size="10.9" font-weight="bold" fill="#000">
<text x="118.6" y="9.2">24V</text>
<text x="147.1" y="9.2">40.0ms</text>
<text x="192.9" y="9.2">0.076mm</text>
</g>
<rect x="48.5" y="17.4" width="70.2" height="69.7" fill="#fff" stroke="#b4b4b4" stroke-width="1"/>
<g font-family='"Liberation Sans", Arial, sans-serif' font-size="8.9" fill="#1e1e1e" stroke="#1e1e1e" stroke-width="0.3">
<path d="M50.8 23.5H62.6" stroke="#ff00ff" stroke-width="1.1"/>
<text x="63.8" y="27.3">Force</text>
<path d="M50.8 34.9H62.6" stroke="#4a4a4a" stroke-width="1.1"/>
<text x="63.8" y="38.7">Current</text>
<path d="M50.8 46.3H62.6" stroke="#35e3e8" stroke-width="1.1"/>
<text x="63.8" y="50.1">Acceleration</text>
<path d="M50.8 57.8H62.6" stroke="#f0f028" stroke-width="1.1"/>
<text x="63.8" y="61.6">Velocity</text>
<path d="M50.8 69.2H62.6" stroke="#dc8a62" stroke-width="1.1"/>
<text x="63.8" y="73.0">Trigger</text>
<path d="M50.8 80.6H62.6" stroke="#46e246" stroke-width="1.1"/>
<text x="63.8" y="84.4">Displacement</text>
</g>
<defs><clipPath id="c1"><rect x="45.1" y="270.4" width="275.9" height="214.3"/></clipPath></defs>
<path d="M84.5 270.4V484.7M123.9 270.4V484.7M163.3 270.4V484.7M202.8 270.4V484.7M242.2 270.4V484.7M281.6 270.4V484.7M45.1 441.8H321.0M45.1 399.0H321.0M45.1 356.1H321.0M45.1 313.3H321.0" stroke="#eeeeee" stroke-width="1" fill="none"/>
<g clip-path="url(#c1)" fill="none" stroke-width="1.5" stroke-linejoin="round" stroke-linecap="round">
<path d="M84.6 413.7L85.4 414L86.2 414.2L87 414.5L87.8 414.8L88.6 415L89.4 415.3L90.2 415.5L91 415.5L91.8 415.5L92.6 415.6L93.4 415.6L94.2 415.6L95 415.6L95.8 415.5L96.6 415.4L97.4 415.3L98.2 415.2L99 415.1L99.8 415" stroke="#4a4a4a"/>
<path d="M100.6 441.8L101.6 441.9L102.6 441.8L103.6 441.7L104.6 442L105.6 441.7L106.6 441.9L107.6 441.8L108.6 441.8L109.6 441.7L110.6 441.7L111.6 441.9L112.6 441.8L113.6 441.8L114.6 441.8L115.6 441.8L116.6 441.7L117.6 441.7L118.6 441.8L119.6 441.7L120.6 441.7L121.6 441.8L122.6 441.8L123.6 441.8L124.6 442L125.6 441.9L126.6 441.9L127.6 441.8L128.6 441.7L129.6 441.7L130.6 441.8L131.6 441.6L132.6 441.7L133.6 441.9L134.6 442L135.6 441.9L136.6 441.7L137.6 441.8L138.6 441.7L139.6 441.9L140.6 441.8L141.6 441.9L142.6 442.1L143.6 441.9L144.6 442L145.6 441.8L146.6 441.8L147.6 441.9L148.6 442L149.6 441.7L150.6 441.8L151.6 441.7L152.6 441.8L153.6 441.9L154.6 441.8L155.6 441.7L156.6 441.7L157.6 441.8L158.6 441.9L159.6 441.9L160.6 441.8L161.6 441.7L162.6 442L163.6 441.8L164.6 441.8L165.6 441.9L166.6 441.6L167.6 441.8L168.6 441.8L169.6 441.8L170.6 441.9L171.6 441.8L172.6 441.6L173.6 441.8L174.6 441.8L175.6 441.8L176.6 441.7L177.6 441.6L178.6 441.9L179.6 441.8L180.6 441.8L181.6 441.6L182.6 442L183.6 441.5L184.6 441.8L185.6 442L186.6 441.8L187.6 441.8L188.6 441.7L189.6 441.9L190.6 441.7L191.6 441.8L192.6 441.8L193.6 441.7L194.6 441.9L195.6 441.7L196.6 441.7L197.6 441.8L198.6 441.8L199.6 441.8L200.6 441.9L201.6 441.8L202.6 441.7L203.6 441.7L204.6 441.8L205.6 441.9L206.6 441.8L207.6 441.8L208.6 441.8L209.6 441.7L210.6 441.9L211.6 441.7L212.6 441.8L213.6 441.9L214.6 441.7L215.6 441.8L216.6 441.6L217.6 441.7L218.6 441.7L219.6 441.8L220.6 441.7L221.6 441.8L222.6 442L223.6 441.8L224.6 441.9L225.6 441.8L226.6 441.8L227.6 441.7L228.6 441.6L229.6 441.8L230.6 442L231.6 441.8L232.6 441.7L233.6 442L234.6 441.8L235.6 441.7L236.6 441.7L237.6 441.7L238.6 441.8L239.6 442L240.6 441.8L241.6 441.7L242.6 441.7L243.6 441.8L244.6 441.6L245.6 441.8L246.6 441.9L247.6 441.8L248.6 441.9L249.6 441.7L250.6 441.6L251.6 441.9L252.6 441.9L253.6 441.6L254.6 441.8L255.6 441.8L256.6 441.9L257.6 441.8L258.6 441.7L259.6 441.8L260.6 441.8L261.6 441.8L262.6 441.6L263.6 441.5L264.6 441.7L265.6 441.6L266.6 441.8L267.6 441.9L268.6 441.8L269.6 441.8L270.6 441.8L271.6 441.9L272.6 441.7L273.6 441.9L274.6 441.9L275.6 441.8L276.6 441.9L277.6 441.7L278.6 441.9L279.6 441.7L280.6 441.7L281.6 441.7L282.6 441.8L283.6 441.7L284.6 441.8L285.6 441.7L286.6 441.9L287.6 442L288.6 441.8L289.6 442L290.6 441.9L291.6 442L292.6 441.8L293.6 441.6L294.6 441.9L295.6 441.8L296.6 441.7L297.6 441.7L298.6 441.6L299.6 441.8L300.6 441.7L301.6 441.9L302.6 441.9L303.6 441.6L304.6 441.6L305.6 441.7L306.6 441.6L307.6 441.8L308.6 441.8L309.6 441.7L310.6 441.7L311.6 441.8L312.6 441.9L313.6 441.9L314.6 441.8L315.6 441.9L316.6 441.7L317.6 441.8L318.6 441.7L319.6 441.9L320.6 441.7" stroke="#4a4a4a"/>
<path d="M45.6 441.8L84.4 441.8L84.4 381.4L100.4 381.4L100.4 441.8L321 441.8" stroke="#dc8a62" stroke-width="1.2"/>
<path d="M45.6 429.8L46.6 429.5L47.6 429.8L48.6 429.6L49.6 429.6L50.6 429.6L51.6 429.7L52.6 429.5L53.6 429.6L54.6 429.5L55.6 429.4L56.6 429.8L57.6 429.7L58.6 429.6L59.6 429.7L60.6 429.5L61.6 429.6L62.6 429.8L63.6 429.7L64.6 429.3L65.6 429.2L66.6 429.5L67.6 429.7L68.6 429.5L69.6 429.6L70.6 429.7L71.6 429.5L72.6 429.6L73.6 429.7L74.6 429.7L75.6 429.6L76.6 429.5L77.6 429.7L78.6 429.5L79.6 429.8L80.6 429.9L81.6 429.5L82.6 429.3L83.6 429.5L84.6 429.6L85.6 429.7L85.6 429.6L86 428.5L86.4 427.4L86.8 426.4L87.2 425.3L87.6 424.2L88 422.9L88.4 420.8L88.8 418.8L89.2 416.7L89.6 414.7L90 412.6L90.4 410.6L90.8 408.8L91.2 407.1L91.6 405.3L92 403.5L92.4 401.7L92.8 400L93.2 398.2L93.6 396.4L94 394.4L94.4 391.7L94.8 388.9L95.2 386.2L95.6 383.5L96 380.7L96.4 378L96.8 374.6L97.2 371.1L97.6 367.7L98 364.3L98.4 360.8L98.8 357.4L99.2 354.5L99.6 352.1L100 349.7L100.4 347.3L100.8 344.8L101.2 342.4L101.6 340L102.2 338.5L103.2 349.2L104.3 349.9L106 359.4L107.1 360.3L108.7 370.2L109.8 371.1L111.4 382.9L112.5 384.7L114.1 397.4L115.2 400.1L116.7 413L117.6 415.5L119.2 436L120.3 444L120.3 442.1" stroke="#ff00ff" stroke-width="1.5"/>
<path d="M120.3 442.1L120.8 438.3L122.2 445.7L123.6 438.6L125 445.4L126.4 438.9L127.8 445.1L129.2 439.2L130.6 444.7L132 439.5L133.4 444.4L134.8 439.8L136.2 444.1L137.6 440.1L139 443.7L140.4 440.4L141.8 443.5L143.2 440.5L144.6 443.4L146 440.6L147.4 443.2L148.8 440.8L150.2 443.1L151.6 440.9L153 442.9L154.4 441L155.8 442.8L157.2 441L158.6 442.8L160 441L161.4 442.7L162.8 441L164.2 442.7L165.6 441.1L167 442.6L168.4 441.1L169.8 442.6L171.2 441.1L172.6 442.5L174 441.1L175 441.8" stroke="#ff00ff" stroke-width="1.2"/>
<path d="M175 441.8L175 441.4L175.5 427.6L176 415.6L176.5 413.4L177 411.2L177.5 407.3L178 403.4L178.5 399.5L179 397.4L179.5 395.8L180 395L180.5 392.5L181 390L181.5 387.5L182 386.8L182.5 386L183 385.3L183.5 382.8L184 380.7L184.5 378.8L185 378.6L185.5 378.5L186 378.3L186.5 376.4L187 374.4L187.5 372.5L188 372.3L188.5 372.1L189 371.9L189.5 370L190 368.2L190.5 366.4L191 366.3L191.5 366.2L192 366.1L192.5 364.3L193 362.4L193.5 360.6L194 360.5L194.5 360.4L195 360.3L195.5 359L196 357.8L196.5 356.5L197 357L197.5 357.4L198 357.9L198.5 356.6L199 355.4L199.5 354.1L200 354.6L200.5 356L201 357.4L201.5 357.1L202 356.8L202.5 356.4L203 357.9L203.5 359.3L204 360.7L204.5 360.4L205 360.1L205.5 360.6L206 362.9L206.5 365.2L207 367.6L207.5 368.1L208 368.7L208.5 369.3L209 371.6L209.5 374.2L210 376.8L210.5 377.7L211 378.6L211.5 379.4L212 382.1L212.5 384.7L213 387.3L213.5 388.4L214 389.6L214.5 390.7L215 393.6L215.5 396.4L216 399.3L216.5 400.4L217 401.6L217.5 402.4L218 405.1L218.5 407.7L219 410.3L219.5 411.2L220 412.1L220.5 412.9L221 415.6L221.5 418.2L222 420.8L222.5 421.7L223 422.6L223.5 423.4L224 426.1L224.5 428.7L225 431.3L225.5 431.7L226 432.1L226.5 432.4L227 434.6L227.5 436.7L228 438.8L228.5 439.2L229 439.6L229.5 439.2L230 440.6L230.5 442L230.7 441.8L231.5 440L233.2 443.5L234.8 440.1L236.5 443.4L238.1 440.2L239.8 443.3L241.4 440.3L243.1 443.2L244.7 440.4L246.4 443.1L248 440.5L249.7 443L251.3 440.6L253 443L254.6 440.6L256.3 442.9L257.9 440.7L259.6 442.9L261.2 440.7L262.8 442.9L264.5 440.7L266.1 442.9L267.8 440.8L269.4 442.8L271.1 440.8L272.3 441.8L272.3 442.9L272.8 439L273.3 435L273.8 432L274.3 430.3L274.8 428.6L275.3 427.9L275.8 425.7L276.3 423.6L276.8 421.4L277.3 421.6L277.8 421.7L278.3 421.8L278.8 420.1L279.3 418.1L279.8 416.1L280.3 415.5L280.8 415.8L281.3 416L281.8 415.4L282.3 413.4L282.8 411.4L283.3 409.9L283.8 410.1L284.3 409.9L284.8 409.5L285.3 406.8L285.8 404.2L286.3 401.6L286.8 400.7L287.3 400.3L287.8 400.1L288.3 399L288.8 397L289.3 395L289.8 393.9L290.3 394.2L290.8 394.4L291.3 394.2L291.8 392.3L292.3 390.3L292.8 388.3L293.3 388.5L293.8 388.8L294.3 389L294.8 387.5L295.3 385.5L295.8 383.5L296.3 382.8L296.8 383.1L297.3 383.3L297.8 382.7L298.3 381.1L298.8 379.6L299.3 378.7L299.8 379.5L300.3 380.4L300.8 382.3L301.3 381.9L301.8 381.6L302.3 381.2L302.8 382.6L303.3 384.5L303.8 386.4L304.3 387L304.8 386.8L305.3 386.7L305.8 387.4L306.3 389.5L306.8 391.7L307.3 393.3L307.8 393.2L308.3 393.1L308.8 392.9L309.3 395L309.8 397.4L310.3 400L310.8 400.8L311.3 401.2L311.8 401.6L312.3 403.3L312.8 406L313.3 408.6L313.8 410.3L314.3 410.7L314.8 411.1L315.3 411.7L315.8 414.2L316.3 416.6L316.8 419L317.3 419.2L317.8 419.4L318.3 419.6L318.8 421.7L319.3 424.5L319.8 427.2L320.3 428.6L320.8 429.1" stroke="#ff00ff" stroke-width="1.5"/>
<path d="M45.6 441.8L46.2 441.8L46.8 441.8L47.4 441.8L48 441.8L48.6 441.8L49.2 441.8L49.8 441.8L50.4 441.8L51 441.8L51.6 441.8L52.2 441.8L52.8 441.8L53.4 441.8L54 441.8L54.6 441.8L55.2 441.8L55.8 441.8L56.4 441.8L57 441.8L57.6 441.8L58.2 441.8L58.8 441.8L59.4 441.8L60 441.8L60.6 441.8L61.2 441.8L61.8 441.8L62.4 441.8L63 441.8L63.6 441.8L64.2 441.8L64.8 441.8L65.4 441.8L66 441.8L66.6 441.8L67.2 441.8L67.8 441.8L68.4 441.8L69 441.8L69.6 441.8L70.2 441.8L70.8 441.8L71.4 441.8L72 441.8L72.6 441.8L73.2 441.8L73.8 441.7L74.4 441.7L75 441.7L75.6 441.7L76.2 441.7L76.8 441.7L77.4 441.7L78 441.7L78.6 441.7L79.2 441.7L79.8 441.7L80.4 441.7L81 441.7L81.6 441.7L82.2 441.7L82.8 441.7L83.4 441.7L84 441.7L84.6 441.7L85.2 441.7L85.8 441.7L86.4 441.7L87 441.7L87.6 441.6L88.2 441.6L88.8 441.6L89.4 441.6L90 441.6L90.6 441.6L91.2 441.6L91.8 441.6L92.4 441.6L93 441.4L93.6 441.2L94.2 440.9L94.8 440.6L95.4 440.3L96 440.1L96.6 439.8L97.2 439.4L97.8 439L98.4 438.6L99 438L99.6 437.3L100.2 436.6L100.8 435.8L101.4 434.9L102 434L102.6 433.1L103.2 432.1L103.8 431L104.4 429.8L105 428.6L105.6 427.4L106.2 426.2L106.8 425.1L107.4 424.1L108 423.1L108.6 422.1L109.2 421.2L109.8 420.3L110.4 419.5L111 418.9L111.6 418.4L112.2 418L112.8 417.6L113.4 417.3L114 417.1L114.6 416.9L115.2 416.9L115.8 416.9L116.4 417L117 417.2L117.6 417.3L118.2 417.5L118.8 417.8L119.4 418.3L120 419.1L120.6 420.1L121.2 421.2L121.8 422.4L122.4 423.6L123 425.1L123.6 426.8L124.2 428.5L124.8 430.2L125.4 431.8L126 433.2L126.6 434.7L127.2 436.2L127.8 437.6L128.4 439L129 440.4L129.6 441.9L130.2 443.4L130.8 444.9L131.4 446.3L132 447.7L132.6 448.9L133.2 450.1L133.8 451.2L134.4 452.2L135 453.3L135.6 454.2L136.2 455L136.8 455.7L137.4 456.4L138 457.1L138.6 457.7L139.2 458.2L139.8 458.8L140.4 459.2L141 459.6L141.6 460L142.2 460.3L142.8 460.6L143.4 460.8L144 461.1L144.6 461.3L145.2 461.5L145.8 461.7L146.4 461.8L147 462L147.6 462.2L148.2 462.3L148.8 462.5L149.4 462.6L150 462.7L150.6 462.9L151.2 463L151.8 463.1L152.4 463.2L153 463.2L153.6 463.3L154.2 463.3L154.8 463.4L155.4 463.4L156 463.4L156.6 463.5L157.2 463.5L157.8 463.5L158.4 463.6L159 463.6L159.6 463.6L160.2 463.6L160.8 463.6L161.4 463.6L162 463.6L162.6 463.5L163.2 463.5L163.8 463.4L164.4 463.3L165 463.2L165.6 463.1L166.2 463L166.8 462.9L167.4 462.7L168 462.6L168.6 462.4L169.2 462.2L169.8 461.9L170.4 461.6L171 461.2L171.6 460.9L172.2 460.5L172.8 460.1L173.4 459.8L174 459.4L174.6 459L175.2 458.6L175.8 458.1L176.4 457.7L177 457.2L177.6 456.8L178.2 456.3L178.8 455.8L179.4 455.3L180 454.8L180.6 454.3L181.2 453.8L181.8 453.3L182.4 452.9L183 452.4L183.6 451.9L184.2 451.4L184.8 450.8L185.4 450.2L186 449.6L186.6 449L187.2 448.3L187.8 447.4L188.4 446.5L189 445.5L189.6 444.5L190.2 443.4L190.8 442.2L191.4 441.1L192 439.9L192.6 438.8L193.2 437.6L193.8 436.5L194.4 435.2L195 434L195.6 432.7L196.2 431.5L196.8 430.2L197.4 428.9L198 427.7L198.6 426.5L199.2 425.4L199.8 424.3L200.4 423.3L201 422.3L201.6 421.3L202.2 420.3L202.8 419.3L203.4 418.4L204 417.5L204.6 416.8L205.2 416.1L205.8 415.6L206.4 415.2L207 414.9L207.6 414.5L208.2 414.2L208.8 413.9L209.4 413.6L210 413.4L210.6 413.2L211.2 413.1L211.8 413L212.4 413L213 413.2L213.6 413.4L214.2 413.7L214.8 414L215.4 414.4L216 414.8L216.6 415.2L217.2 415.6L217.8 416L218.4 416.5L219 417L219.6 417.5L220.2 418.1L220.8 418.7L221.4 419.3L222 420L222.6 420.8L223.2 421.6L223.8 422.6L224.4 423.6L225 424.7L225.6 425.8L226.2 427L226.8 428.2L227.4 429.3L228 430.5L228.6 431.6L229.2 432.7L229.8 433.7L230.4 434.6L231 435.5L231.6 436.5L232.2 437.4L232.8 438.3L233.4 439.1L234 440L234.6 440.8L235.2 441.6L235.8 442.3L236.4 443L237 443.7L237.6 444.3L238.2 445L238.8 445.6L239.4 446.2L240 446.8L240.6 447.4L241.2 448L241.8 448.5L242.4 449.1L243 449.5L243.6 450L244.2 450.5L244.8 450.9L245.4 451.3L246 451.6L246.6 452L247.2 452.3L247.8 452.7L248.4 453L249 453.3L249.6 453.6L250.2 453.8L250.8 454.1L251.4 454.3L252 454.5L252.6 454.7L253.2 454.9L253.8 455L254.4 455.2L255 455.4L255.6 455.6L256.2 455.7L256.8 455.9L257.4 456L258 456.2L258.6 456.3L259.2 456.4L259.8 456.5L260.4 456.5L261 456.6L261.6 456.6L262.2 456.6L262.8 456.6L263.4 456.5L264 456.4L264.6 456.3L265.2 456.2L265.8 456.1L266.4 456L267 455.8L267.6 455.6L268.2 455.5L268.8 455.3L269.4 455.2L270 455L270.6 454.8L271.2 454.7L271.8 454.5L272.4 454.4L273 454.2L273.6 454L274.2 453.8L274.8 453.6L275.4 453.4L276 453.2L276.6 453L277.2 452.7L277.8 452.5L278.4 452.2L279 452L279.6 451.7L280.2 451.4L280.8 451.1L281.4 450.7L282 450.3L282.6 449.9L283.2 449.4L283.8 448.9L284.4 448.5L285 448L285.6 447.5L286.2 447L286.8 446.5L287.4 446.1L288 445.6L288.6 445.2L289.2 444.8L289.8 444.5L290.4 444.1L291 443.7L291.6 443.4L292.2 442.9L292.8 442.5L293.4 442L294 441.4L294.6 440.7L295.2 439.9L295.8 439.1L296.4 438.1L297 437.2L297.6 436.2L298.2 435.2L298.8 434.3L299.4 433.4L300 432.5L300.6 431.7L301.2 430.8L301.8 429.9L302.4 429L303 428.2L303.6 427.4L304.2 426.7L304.8 426.2L305.4 425.7L306 425.2L306.6 424.8L307.2 424.3L307.8 423.9L308.4 423.6L309 423.3L309.6 423.1L310.2 422.9L310.8 422.9L311.4 422.9L312 422.9L312.6 423L313.2 423.1L313.8 423.1L314.4 423.2L315 423.3L315.6 423.4L316.2 423.5L316.8 423.7L317.4 424L318 424.3L318.6 424.7L319.2 425.1L319.8 425.5L320.4 426L321 426.5" stroke="#35e3e8"/>
<path d="M45.6 441.8L46.2 441.8L46.8 441.8L47.4 441.8L48 441.8L48.6 441.8L49.2 441.8L49.8 441.8L50.4 441.8L51 441.8L51.6 441.8L52.2 441.8L52.8 441.8L53.4 441.8L54 441.8L54.6 441.8L55.2 441.8L55.8 441.8L56.4 441.8L57 441.8L57.6 441.8L58.2 441.8L58.8 441.8L59.4 441.8L60 441.8L60.6 441.8L61.2 441.8L61.8 441.8L62.4 441.8L63 441.8L63.6 441.8L64.2 441.8L64.8 441.8L65.4 441.8L66 441.8L66.6 441.8L67.2 441.8L67.8 441.8L68.4 441.8L69 441.8L69.6 441.8L70.2 441.8L70.8 441.8L71.4 441.8L72 441.8L72.6 441.8L73.2 441.8L73.8 441.8L74.4 441.8L75 441.8L75.6 441.8L76.2 441.8L76.8 441.8L77.4 441.8L78 441.8L78.6 441.8L79.2 441.8L79.8 441.8L80.4 441.8L81 441.8L81.6 441.8L82.2 441.8L82.8 441.8L83.4 441.8L84 441.8L84.6 441.8L85.2 441.8L85.8 441.8L86.4 441.7L87 441.7L87.6 441.7L88.2 441.7L88.8 441.7L89.4 441.7L90 441.7L90.6 441.7L91.2 441.7L91.8 441.7L92.4 441.7L93 441.7L93.6 441.7L94.2 441.7L94.8 441.7L95.4 441.7L96 441.7L96.6 441.7L97.2 441.7L97.8 441.7L98.4 441.7L99 441.6L99.6 441.5L100.2 441.4L100.8 441.2L101.4 441L102 440.8L102.6 440.6L103.2 440.3L103.8 439.9L104.4 439.4L105 438.8L105.6 438.2L106.2 437.6L106.8 436.9L107.4 436.3L108 435.6L108.6 434.8L109.2 434L109.8 433.1L110.4 432.2L111 431.3L111.6 430.4L112.2 429.5L112.8 428.6L113.4 427.6L114 426.6L114.6 425.6L115.2 424.7L115.8 423.7L116.4 422.7L117 421.8L117.6 420.8L118.2 419.9L118.8 418.9L119.4 418L120 417.2L120.6 416.4L121.2 415.6L121.8 414.9L122.4 414.2L123 413.5L123.6 412.9L124.2 412.3L124.8 411.8L125.4 411.4L126 411L126.6 410.6L127.2 410.3L127.8 409.9L128.4 409.7L129 409.4L129.6 409.2L130.2 409.1L130.8 409.1L131.4 409.2L132 409.3L132.6 409.5L133.2 409.7L133.8 409.9L134.4 410.2L135 410.5L135.6 410.8L136.2 411.2L136.8 411.7L137.4 412.3L138 413L138.6 413.7L139.2 414.5L139.8 415.3L140.4 416.1L141 416.9L141.6 417.7L142.2 418.6L142.8 419.5L143.4 420.5L144 421.4L144.6 422.4L145.2 423.4L145.8 424.4L146.4 425.4L147 426.4L147.6 427.4L148.2 428.3L148.8 429.3L149.4 430.1L150 431L150.6 431.8L151.2 432.7L151.8 433.5L152.4 434.3L153 435.1L153.6 435.8L154.2 436.6L154.8 437.4L155.4 438.2L156 438.9L156.6 439.7L157.2 440.5L157.8 441.3L158.4 442.1L159 442.8L159.6 443.6L160.2 444.4L160.8 445.2L161.4 446L162 446.8L162.6 447.6L163.2 448.3L163.8 449.1L164.4 449.8L165 450.5L165.6 451.2L166.2 451.9L166.8 452.5L167.4 453.2L168 453.8L168.6 454.4L169.2 455.1L169.8 455.7L170.4 456.3L171 456.9L171.6 457.5L172.2 458.1L172.8 458.7L173.4 459.3L174 460L174.6 460.6L175.2 461.2L175.8 461.9L176.4 462.6L177 463.4L177.6 464.1L178.2 464.9L178.8 465.7L179.4 466.5L180 467.2L180.6 467.9L181.2 468.6L181.8 469.1L182.4 469.6L183 470L183.6 470.4L184.2 470.6L184.8 470.7L185.4 470.9L186 471L186.6 471.1L187.2 471.2L187.8 471.3L188.4 471.3L189 471.3L189.6 471.3L190.2 471.2L190.8 471.2L191.4 471.1L192 471L192.6 470.8L193.2 470.6L193.8 470.2L194.4 469.8L195 469.3L195.6 468.8L196.2 468.3L196.8 467.8L197.4 467.2L198 466.5L198.6 465.8L199.2 465.1L199.8 464.3L200.4 463.5L201 462.7L201.6 461.9L202.2 461.1L202.8 460.3L203.4 459.5L204 458.7L204.6 457.8L205.2 457L205.8 456.1L206.4 455.3L207 454.4L207.6 453.5L208.2 452.6L208.8 451.7L209.4 450.9L210 450L210.6 449.1L211.2 448.3L211.8 447.5L212.4 446.7L213 445.8L213.6 445L214.2 444.1L214.8 443.2L215.4 442.3L216 441.3L216.6 440.2L217.2 439.1L217.8 437.9L218.4 436.6L219 435.4L219.6 434.2L220.2 433L220.8 431.9L221.4 430.9L222 430L222.6 429.2L223.2 428.4L223.8 427.6L224.4 426.8L225 426.1L225.6 425.4L226.2 424.8L226.8 424.3L227.4 423.8L228 423.5L228.6 423.2L229.2 423L229.8 422.7L230.4 422.5L231 422.3L231.6 422.1L232.2 421.9L232.8 421.7L233.4 421.6L234 421.4L234.6 421.3L235.2 421.3L235.8 421.2L236.4 421.2L237 421.2L237.6 421.3L238.2 421.5L238.8 421.7L239.4 421.9L240 422.1L240.6 422.4L241.2 422.6L241.8 422.9L242.4 423.2L243 423.5L243.6 423.9L244.2 424.2L244.8 424.7L245.4 425.1L246 425.6L246.6 426L247.2 426.5L247.8 427L248.4 427.5L249 428.1L249.6 428.7L250.2 429.3L250.8 429.9L251.4 430.6L252 431.2L252.6 431.9L253.2 432.6L253.8 433.2L254.4 433.9L255 434.5L255.6 435.1L256.2 435.7L256.8 436.4L257.4 437L258 437.6L258.6 438.2L259.2 438.8L259.8 439.4L260.4 440L261 440.7L261.6 441.3L262.2 441.9L262.8 442.5L263.4 443.2L264 443.8L264.6 444.5L265.2 445.1L265.8 445.8L266.4 446.4L267 447.1L267.6 447.7L268.2 448.3L268.8 448.9L269.4 449.5L270 450L270.6 450.5L271.2 451L271.8 451.6L272.4 452.1L273 452.6L273.6 453.1L274.2 453.6L274.8 454L275.4 454.5L276 454.9L276.6 455.4L277.2 455.8L277.8 456.2L278.4 456.6L279 456.9L279.6 457.3L280.2 457.6L280.8 457.9L281.4 458.2L282 458.6L282.6 458.9L283.2 459.1L283.8 459.4L284.4 459.6L285 459.8L285.6 459.9L286.2 460L286.8 460.1L287.4 460.2L288 460.3L288.6 460.3L289.2 460.4L289.8 460.4L290.4 460.5L291 460.5L291.6 460.6L292.2 460.6L292.8 460.6L293.4 460.6L294 460.6L294.6 460.5L295.2 460.3L295.8 460.1L296.4 459.9L297 459.6L297.6 459.3L298.2 459L298.8 458.6L299.4 458.3L300 458L300.6 457.7L301.2 457.3L301.8 456.9L302.4 456.5L303 456.1L303.6 455.7L304.2 455.2L304.8 454.7L305.4 454.3L306 453.8L306.6 453.3L307.2 452.8L307.8 452.4L308.4 451.9L309 451.4L309.6 450.9L310.2 450.4L310.8 449.8L311.4 449.3L312 448.8L312.6 448.2L313.2 447.7L313.8 447.2L314.4 446.6L315 446.1L315.6 445.6L316.2 445L316.8 444.5L317.4 443.9L318 443.3L318.6 442.8L319.2 442.2L319.8 441.7L320.4 441.1L321 440.5" stroke="#f0f028"/>
<path d="M45.6 441.8L46.2 441.8L46.8 441.8L47.4 441.8L48 441.8L48.6 441.8L49.2 441.8L49.8 441.8L50.4 441.8L51 441.8L51.6 441.8L52.2 441.8L52.8 441.8L53.4 441.8L54 441.8L54.6 441.8L55.2 441.8L55.8 441.8L56.4 441.8L57 441.8L57.6 441.8L58.2 441.8L58.8 441.8L59.4 441.8L60 441.8L60.6 441.8L61.2 441.8L61.8 441.8L62.4 441.8L63 441.8L63.6 441.8L64.2 441.8L64.8 441.8L65.4 441.8L66 441.8L66.6 441.8L67.2 441.8L67.8 441.8L68.4 441.8L69 441.8L69.6 441.8L70.2 441.8L70.8 441.8L71.4 441.8L72 441.8L72.6 441.8L73.2 441.8L73.8 441.8L74.4 441.8L75 441.8L75.6 441.8L76.2 441.8L76.8 441.8L77.4 441.8L78 441.7L78.6 441.7L79.2 441.7L79.8 441.7L80.4 441.7L81 441.7L81.6 441.7L82.2 441.7L82.8 441.7L83.4 441.7L84 441.7L84.6 441.7L85.2 441.7L85.8 441.7L86.4 441.7L87 441.7L87.6 441.7L88.2 441.7L88.8 441.7L89.4 441.7L90 441.7L90.6 441.7L91.2 441.7L91.8 441.7L92.4 441.7L93 441.7L93.6 441.7L94.2 441.7L94.8 441.6L95.4 441.6L96 441.6L96.6 441.6L97.2 441.6L97.8 441.6L98.4 441.6L99 441.6L99.6 441.6L100.2 441.6L100.8 441.5L101.4 441.2L102 440.8L102.6 440.3L103.2 439.7L103.8 439.1L104.4 438.4L105 437.6L105.6 436.9L106.2 436.1L106.8 435.1L107.4 433.9L108 432.5L108.6 431L109.2 429.5L109.8 427.9L110.4 426.3L111 424.7L111.6 423.3L112.2 422L112.8 420.7L113.4 419.5L114 418.4L114.6 417.3L115.2 416.1L115.8 414.9L116.4 413.6L117 412.3L117.6 410.8L118.2 409.2L118.8 407.3L119.4 405.2L120 403L120.6 400.6L121.2 398.2L121.8 395.6L122.4 392.9L123 390.3L123.6 387.6L124.2 384.9L124.8 382.3L125.4 379.7L126 377.3L126.6 374.9L127.2 372.6L127.8 370.3L128.4 368L129 365.7L129.6 363.4L130.2 361.2L130.8 358.9L131.4 356.7L132 354.5L132.6 352.4L133.2 350.3L133.8 348.2L134.4 346.2L135 344.3L135.6 342.4L136.2 340.5L136.8 338.6L137.4 336.8L138 334.9L138.6 333.1L139.2 331.4L139.8 329.7L140.4 328L141 326.4L141.6 324.8L142.2 323.3L142.8 321.8L143.4 320.4L144 319.1L144.6 317.8L145.2 316.4L145.8 315.1L146.4 313.8L147 312.5L147.6 311.3L148.2 310.2L148.8 309.3L149.4 308.4L150 307.7L150.6 307.2L151.2 306.8L151.8 306.4L152.4 306L153 305.7L153.6 305.3L154.2 305L154.8 304.8L155.4 304.6L156 304.4L156.6 304.3L157.2 304.3L157.8 304.3L158.4 304.4L159 304.6L159.6 304.8L160.2 305.1L160.8 305.4L161.4 305.8L162 306.2L162.6 306.6L163.2 307.1L163.8 307.6L164.4 308.1L165 308.6L165.6 309.2L166.2 310L166.8 310.9L167.4 312L168 313.1L168.6 314.4L169.2 315.8L169.8 317.2L170.4 318.6L171 320.1L171.6 321.6L172.2 323.2L172.8 324.8L173.4 326.5L174 328.3L174.6 330.2L175.2 332.2L175.8 334.3L176.4 336.4L177 338.6L177.6 340.8L178.2 343L178.8 345.3L179.4 347.5L180 349.7L180.6 352L181.2 354.4L181.8 356.8L182.4 359.3L183 361.7L183.6 364.2L184.2 366.7L184.8 369.2L185.4 371.6L186 374.1L186.6 376.5L187.2 378.9L187.8 381.4L188.4 383.9L189 386.5L189.6 389L190.2 391.5L190.8 393.9L191.4 396.3L192 398.6L192.6 400.8L193.2 403L193.8 405L194.4 406.9L195 408.8L195.6 410.7L196.2 412.5L196.8 414.2L197.4 415.9L198 417.6L198.6 419.2L199.2 420.7L199.8 422.2L200.4 423.6L201 425L201.6 426.4L202.2 427.8L202.8 429.1L203.4 430.4L204 431.7L204.6 432.8L205.2 433.8L205.8 434.6L206.4 435.2L207 435.7L207.6 436.2L208.2 436.7L208.8 437.1L209.4 437.5L210 437.8L210.6 438L211.2 438.2L211.8 438.3L212.4 438.3L213 438.1L213.6 437.9L214.2 437.6L214.8 437.2L215.4 436.8L216 436.3L216.6 435.8L217.2 435.3L217.8 434.8L218.4 434.2L219 433.5L219.6 432.8L220.2 431.9L220.8 431.1L221.4 430.2L222 429.2L222.6 428.2L223.2 427.2L223.8 426.2L224.4 425.1L225 424L225.6 422.9L226.2 421.6L226.8 420.3L227.4 418.9L228 417.4L228.6 415.9L229.2 414.4L229.8 412.8L230.4 411.2L231 409.6L231.6 408L232.2 406.5L232.8 404.9L233.4 403.2L234 401.5L234.6 399.7L235.2 398L235.8 396.2L236.4 394.5L237 392.7L237.6 391L238.2 389.4L238.8 387.9L239.4 386.4L240 385L240.6 383.7L241.2 382.4L241.8 381.2L242.4 379.9L243 378.8L243.6 377.6L244.2 376.5L244.8 375.5L245.4 374.5L246 373.5L246.6 372.6L247.2 371.7L247.8 370.9L248.4 370L249 369.2L249.6 368.4L250.2 367.7L250.8 367L251.4 366.3L252 365.8L252.6 365.3L253.2 364.9L253.8 364.5L254.4 364.1L255 363.8L255.6 363.5L256.2 363.2L256.8 362.9L257.4 362.7L258 362.5L258.6 362.4L259.2 362.3L259.8 362.3L260.4 362.4L261 362.5L261.6 362.7L262.2 362.9L262.8 363.2L263.4 363.5L264 363.8L264.6 364.1L265.2 364.5L265.8 364.9L266.4 365.3L267 365.8L267.6 366.5L268.2 367.2L268.8 368.1L269.4 369L270 369.9L270.6 370.9L271.2 372L271.8 373L272.4 374L273 375L273.6 376L274.2 377L274.8 378.1L275.4 379.1L276 380.3L276.6 381.4L277.2 382.5L277.8 383.7L278.4 384.9L279 386L279.6 387.2L280.2 388.4L280.8 389.6L281.4 390.8L282 392L282.6 393.3L283.2 394.6L283.8 395.8L284.4 397.1L285 398.4L285.6 399.7L286.2 401L286.8 402.3L287.4 403.6L288 404.9L288.6 406.3L289.2 407.7L289.8 409L290.4 410.4L291 411.7L291.6 413.1L292.2 414.3L292.8 415.6L293.4 416.8L294 418L294.6 419.2L295.2 420.4L295.8 421.6L296.4 422.8L297 423.9L297.6 425L298.2 426.1L298.8 427.1L299.4 428.1L300 429L300.6 429.9L301.2 430.8L301.8 431.7L302.4 432.5L303 433.3L303.6 434.1L304.2 434.7L304.8 435.3L305.4 435.9L306 436.4L306.6 436.9L307.2 437.4L307.8 437.8L308.4 438.2L309 438.4L309.6 438.5L310.2 438.5L310.8 438.5L311.4 438.6L312 438.6L312.6 438.6L313.2 438.6L313.8 438.6L314.4 438.5L315 438.3L315.6 438.1L316.2 437.8L316.8 437.6L317.4 437.3L318 437L318.6 436.7L319.2 436.4L319.8 436L320.4 435.6L321 435.2" stroke="#46e246"/>
<path d="M45.6 442.2L46.4 441.7L47.2 441.7L48 442.2L48.8 441.6L49.6 442.2L50.4 441.8L51.2 442.1L52 442.1L52.8 442.1L53.6 442.1L54.4 441.7L55.2 442L56 441.9L56.8 442L57.6 442.2L58.4 441.8L59.2 441.7L60 441.7L60.8 441.8L61.6 442.1L62.4 441.7L63.2 442.2L64 442L64.8 441.8L65.6 441.6L66.4 442L67.2 442.1L68 441.5L68.8 442.2L69.6 442.3L70.4 442L71.2 442L72 442.5L72.8 442.2L73.6 441.7L74.4 441.9L75.2 441.9L76 441.9L76.8 441.3L77.6 442.1L78.4 441.7L79.2 441.9L80 441.9L80.8 442.1L81.6 441.8L82.4 441.7L83.2 442L84 442.3" stroke="#1a2a1a" stroke-width="0.9" stroke-opacity="0.55"/>
</g>
<rect x="45.1" y="270.4" width="275.9" height="214.3" fill="none" stroke="#b4b4b4" stroke-width="1.6"/>
<path d="M84.5 484.7v-2.8M84.5 270.4v2.8M123.9 484.7v-2.8M123.9 270.4v2.8M163.3 484.7v-2.8M163.3 270.4v2.8M202.8 484.7v-2.8M202.8 270.4v2.8M242.2 484.7v-2.8M242.2 270.4v2.8M281.6 484.7v-2.8M281.6 270.4v2.8M45.1 441.8h2.8M321.0 441.8h-2.8M45.1 399.0h2.8M321.0 399.0h-2.8M45.1 356.1h2.8M321.0 356.1h-2.8M45.1 313.3h2.8M321.0 313.3h-2.8" stroke="#b4b4b4" stroke-width="1"/>
<g font-family='"Liberation Sans", Arial, sans-serif' font-size="10" fill="#1e1e1e" stroke="#1e1e1e" stroke-width="0.3">
<text x="42" y="490.0" text-anchor="end">-1</text>
<text x="324" y="489.1">-5</text>
<text x="42" y="447.1" text-anchor="end">0</text>
<text x="324" y="446.2">0</text>
<text x="42" y="404.3" text-anchor="end">1</text>
<text x="324" y="403.4">5</text>
<text x="42" y="361.4" text-anchor="end">2</text>
<text x="324" y="360.5">10</text>
<text x="42" y="318.6" text-anchor="end">3</text>
<text x="324" y="317.7">15</text>
<text x="42" y="275.7" text-anchor="end">4</text>
<text x="324" y="274.8">20</text>
<text x="45.1" y="498.5" text-anchor="middle">0.075</text>
<text x="84.5" y="498.5" text-anchor="middle">0.1</text>
<text x="123.9" y="498.5" text-anchor="middle">0.125</text>
<text x="163.3" y="498.5" text-anchor="middle">0.15</text>
<text x="202.8" y="498.5" text-anchor="middle">0.175</text>
<text x="242.2" y="498.5" text-anchor="middle">0.2</text>
<text x="281.6" y="498.5" text-anchor="middle">0.225</text>
<text x="321.0" y="498.5" text-anchor="middle">0.25</text>
<text x="183.5" y="512.0" text-anchor="middle" font-size="10.3" textLength="38.6" lengthAdjust="spacingAndGlyphs">Time (s)</text>
<text transform="translate(16.3 385.7) rotate(-90)" text-anchor="middle" font-size="10.25">Force (N), Current (A),</text>
<text transform="translate(29.6 377.8) rotate(-90)" text-anchor="middle" font-size="10.25">Velocity (m/s), Acc (10²m/s²)</text>
<text transform="translate(346.3 377.5) rotate(-90)" text-anchor="middle">Displacement (mm)</text>
</g>
<g font-family='"Liberation Sans", Arial, sans-serif' font-size="10.9" font-weight="bold" fill="#000">
<text x="116.6" y="266.4">48V</text>
<text x="146.3" y="266.4">10.0ms</text>
<text x="192.6" y="266.4">0.076mm</text>
</g>
<rect x="245.3" y="274.2" width="71.6" height="71.1" fill="#fff" stroke="#b4b4b4" stroke-width="1"/>
<g font-family='"Liberation Sans", Arial, sans-serif' font-size="9.1" fill="#1e1e1e" stroke="#1e1e1e" stroke-width="0.3">
<path d="M246.8 280.9H259.3" stroke="#ff00ff" stroke-width="1.1"/>
<text x="260.7" y="284.7">Force</text>
<path d="M246.8 292.3H259.3" stroke="#4a4a4a" stroke-width="1.1"/>
<text x="260.7" y="296.1">Current</text>
<path d="M246.8 303.8H259.3" stroke="#35e3e8" stroke-width="1.1"/>
<text x="260.7" y="307.6">Acceleration</text>
<path d="M246.8 315.2H259.3" stroke="#f0f028" stroke-width="1.1"/>
<text x="260.7" y="319.1">Velocity</text>
<path d="M246.8 326.7H259.3" stroke="#dc8a62" stroke-width="1.1"/>
<text x="260.7" y="330.5">Trigger</text>
<path d="M246.8 338.1H259.3" stroke="#46e246" stroke-width="1.1"/>
<text x="260.7" y="341.9">Displacement</text>
</g>
<defs><clipPath id="c2"><rect x="45.1" y="532.7" width="275.9" height="210.6"/></clipPath></defs>
<path d="M84.5 532.7V743.3M123.9 532.7V743.3M163.3 532.7V743.3M202.8 532.7V743.3M242.2 532.7V743.3M281.6 532.7V743.3M45.1 701.2H321.0M45.1 659.1H321.0M45.1 616.9H321.0M45.1 574.8H321.0" stroke="#eeeeee" stroke-width="1" fill="none"/>
<g clip-path="url(#c2)" fill="none" stroke-width="1.5" stroke-linejoin="round" stroke-linecap="round">
<path d="M84.8 603.5L85.5 607L86.2 610.5" stroke="#222222"/>
<path d="M86.9 700.2L87.9 700.4L88.9 700.6L89.9 700.6L90.9 700.3L91.9 700.3L92.9 700.4L93.9 700.1L94.9 700.1L95.9 700.8L96.9 700.3L97.9 700.4L98.9 700.2L99.9 700.7L100.9 700.9L101.9 700.4L102.9 700.5L103.9 700.2L104.9 700.9L105.9 700.7L106.9 700.2L107.9 700.7L108.9 700.5L109.9 700.5L110.9 700.5L111.9 700.3L112.9 700.3L113.9 700.6L114.9 700.4L115.9 700.2L116.9 700.9L117.9 700.4L118.9 700.3L119.9 700.2L120.9 700.6L121.9 700.7L122.9 700.5L123.9 700.6L124.9 700L125.9 700.3L126.9 700.3L127.9 700.4L128.9 700.5L129.9 699.9L130.9 701.2L131.9 700.2L132.9 700.5L133.9 700.6L134.9 700.6L135.9 700.5L136.9 699.7L137.9 700.1L138.9 700.6L139.9 700.2L140.9 700.1L141.9 699.8L142.9 700.7L143.9 700.5L144.9 700.2L145.9 700.4L146.9 700.4L147.9 700.1L148.9 700.3L149.9 700.5L150.9 700.5L151.9 700.7L152.9 700.4L153.9 700.3L154.9 700.5L155.9 700.2L156.9 700.1L157.9 700.7L158.9 700.3L159.9 700.4L160.9 700.6L161.9 700.1L162.9 700.6L163.9 700.5L164.9 700.4L165.9 700.5L166.9 700.2L167.9 699.9L168.9 700.3L169.9 700.2L170.9 700.6L171.9 700.5L172.9 700.3L173.9 700.4L174.9 700.7L175.9 700.7L176.9 700.5L177.9 700.5L178.9 700.3L179.9 700.4L180.9 700.6L181.9 700.4L182.9 700.5L183.9 700.1L184.9 700L185.9 700L186.9 700.3L187.9 700.7L188.9 700.7L189.9 700.2L190.9 700L191.9 700.6L192.9 700.5L193.9 700.1L194.9 700.7L195.9 700.4L196.9 700.7L197.9 700.5L198.9 700.6L199.9 700.5L200.9 700.2L201.9 700.3L202.9 700.2L203.9 700.6L204.9 700.2L205.9 700L206.9 700.6L207.9 700.7L208.9 700.8L209.9 700.7L210.9 700L211.9 700.2L212.9 700.3L213.9 700.4L214.9 699.9L215.9 700.4L216.9 700.5L217.9 700.2L218.9 700.4L219.9 700.7L220.9 700.4L221.9 700.7L222.9 700.7L223.9 700.5L224.9 700.5L225.9 700.3L226.9 700.7L227.9 700.3L228.9 700.2L229.9 700.6L230.9 700.2L231.9 700.5L232.9 700.7L233.9 700.4L234.9 700.4L235.9 700.6L236.9 700.6L237.9 700L238.9 700.1L239.9 700.7L240.9 700.5L241.9 699.9L242.9 700.1L243.9 700.4L244.9 700.2L245.9 700.5L246.9 700.4L247.9 700.5L248.9 700.1L249.9 700.6L250.9 700.9L251.9 700.2L252.9 700.7L253.9 700.7L254.9 700.6L255.9 700.4L256.9 700.1L257.9 700.2L258.9 700.6L259.9 700.7L260.9 700.7L261.9 700.6L262.9 700.6L263.9 700.3L264.9 700.1L265.9 700.5L266.9 700.5L267.9 700.4L268.9 700L269.9 700.3L270.9 700L271.9 700.4L272.9 700.1L273.9 700.4L274.9 700.5L275.9 700.4L276.9 700.7L277.9 700.1L278.9 699.9L279.9 700.6L280.9 700.8L281.9 700.8L282.9 700.5L283.9 700.5L284.9 700.4L285.9 700.1L286.9 700.3L287.9 700.5L288.9 700.3L289.9 700.9L290.9 700L291.9 700.3L292.9 700.7L293.9 700.3L294.9 700.1L295.9 700.1L296.9 700.2L297.9 700.8L298.9 700.5L299.9 700.5L300.9 700.3L301.9 700.6L302.9 700.4L303.9 700.2L304.9 700.3L305.9 700.5L306.9 700.7L307.9 700.4L308.9 700.5L309.9 700.9L310.9 700.2L311.9 700.1L312.9 700.7L313.9 700.5L314.9 700.4L315.9 700.5L316.9 700.3L317.9 700.5L318.9 700.3L319.9 700.6L320.9 700.1" stroke="#4a4a4a"/>
<path d="M45.6 701.2L84.5 701.2L84.5 587.5L86.6 587.5L86.6 701.5L321 701.5" stroke="#dc8a62" stroke-width="1.2"/>
<path d="M45.6 689.4L46.6 689.5L47.6 689.6L48.6 689.3L49.6 689.4L50.6 689.5L51.6 689.5L52.6 689.4L53.6 689.5L54.6 689.5L55.6 689.7L56.6 689.6L57.6 689.3L58.6 689.2L59.6 689.5L60.6 689.6L61.6 689.5L62.6 689.6L63.6 689.4L64.6 689.3L65.6 689.6L66.6 689.5L67.6 689.6L68.6 689.3L69.6 689.5L70.6 689.4L71.6 689.6L72.6 689.4L73.6 689.4L74.6 689.4L75.6 689.7L76.6 689.5L77.6 689.4L78.6 689.4L79.6 689.4L80.6 689.7L81.6 689.3L82.6 689.4L83.6 689.6L84.6 689.6L85.2 689.5L86.9 689.5L87.5 640L88 590L88.6 548.6" stroke="#ff00ff" stroke-width="1.5"/>
<path d="M88.6 548.6L88.6 548.6L89.9 613.6L91.2 559.4L92.6 618L93.9 571.5L95.2 624.7L96.6 585.3L97.9 638.4L99.2 599.9L100.5 651.4L101.9 616.1L103.2 663.3L104.5 634.3L105.8 680.3L107.2 658.5L108.5 699.2L109.8 678.9L111.1 718.3L112.5 685.1L113.8 716.7L115.1 686.5L116.4 715L117.8 687.8L119.1 714.2L120.4 688.8L121.7 713.5L123.1 689.4L124.4 712.8L125.7 690L127 712.2L128.4 690.5L129.7 711.5L131 691.1L132.3 710.8L133.7 691.7L135 710.2L136.3 692.2L137.6 709.6L138.9 692.8L140.3 709.1L141.6 693.3L142.9 708.5L144.2 693.7L145.6 707.9L146.9 694.1L148.2 707.4L149.5 694.5L150.9 706.9L152.2 695L153.5 706.5L154.8 695.4L156.2 706.2L157.5 695.8L158.8 705.8L160.1 696.2L161.5 705.5L162.8 696.6L164.1 705.1L165.4 697" stroke="#ff00ff" stroke-width="1.15"/>
<path d="M165.4 697L166.8 700.4L167.3 699.6L167.8 691.5L168.3 677.9L168.8 670.7L169.3 668L169.8 664.4L170.3 659.8L170.8 658.2L171.3 656.1L171.8 654L172.3 650.2L172.8 647.5L173.3 644.7L173.8 643.4L174.3 644.1L174.8 644.8L175.3 643.6L175.8 641.2L176.3 638.7L176.8 636.5L177.3 635L177.8 633.5L178.3 633.1L178.8 632.8L179.3 632.2L179.8 630.5L180.3 629L180.8 628L181.3 627.7L181.8 627.5L182.3 626.5L182.8 625.1L183.3 623.7L183.8 623.3L184.3 623.2L184.8 623L185.3 621.4L185.8 619.7L186.3 618.2L186.8 617.7L187.3 617.3L187.8 616.5L188.3 615.2L188.8 613.9L189.3 613.3L189.8 613.3L190.3 613.1L190.8 611.8L191.3 610.3L191.8 609.6L192.3 610.6L192.8 611.7L193.3 612.5L193.8 612.1L194.3 611.8L194.8 612L195.3 613.2L195.8 615.1L196.3 616.3L196.8 617L197.3 617.6L197.8 619.3L198.3 621.3L198.8 623.4L199.3 624.5L199.8 625.6L200.3 627L200.8 629.4L201.3 631.8L201.8 634.2L202.3 635.8L202.8 637.4L203.3 639.8L203.8 643.4L204.3 647.1L204.8 649.8L205.3 652.2L205.8 653.6L206.3 656.1L206.8 658.5L207.3 660.7L207.8 661.8L208.3 663L208.8 664.7L209.3 667.6L209.8 670.5L210.3 672.6L210.8 674.3L211.3 675.9L211.8 678.2L212.3 680.6L212.8 682.9L213.3 684L213.8 685L214.3 686.3L214.8 688.5L215.3 690.6L215.8 692.2L216.3 693.1L216.8 694L217.3 695.5L217.8 697.5L218.3 699.5L218.8 700.5L219.2 701.2L220 699.9L221.4 702.5L222.9 700L224.3 702.4L225.8 700L227.2 702.3L228.7 700.1L230.1 702.3L231.6 700.1L233 702.2L234.5 700.2L235.9 702.2L237.4 700.2L238.8 702.1L240.3 700.3L241.7 702.1L243.2 700.3L244.6 702.1L246.1 700.3L247.5 702.1L249 700.3L250.4 702.1L251.9 700.3L253.3 702L254.8 700.4L256.2 702L257.7 700.4L259.1 702L260.6 700.4L262 702L263.5 700.4L264.9 702L265.9 701.2L265.9 700.3L266.4 698.9L266.9 697.5L267.4 694.4L267.9 690.8L268.4 687.3L268.9 686.6L269.4 686.4L269.9 686.1L270.4 684.2L270.9 681.8L271.4 679.4L271.9 678.7L272.4 678.4L272.9 678.2L273.4 676.2L273.9 673.7L274.4 671.3L274.9 670.6L275.4 670.3L275.9 670L276.4 668L276.9 665.4L277.4 662.9L277.9 662L278.4 661.6L278.9 661.2L279.4 659.1L279.9 656.6L280.4 654L280.9 653.2L281.4 652.8L281.9 652.3L282.4 650.2L282.9 647.7L283.4 645.1L283.9 644.3L284.4 644.3L284.9 644.4L285.4 642.7L285.9 640.6L286.4 638.5L286.9 638.2L287.4 638.2L287.9 638.4L288.4 637.1L288.9 635.4L289.4 633.6L289.9 633.6L290.4 634L290.9 634.4L291.4 633.1L291.9 632L292.4 631.3L292.9 632.2L293.4 633.7L293.9 635.1L294.4 634.8L294.9 634L295.4 633.3L295.9 634.9L296.4 637L296.9 639L297.4 639.4L297.9 639.3L298.4 639.2L298.9 640.9L299.4 643.2L299.9 646.4L300.4 648L300.9 649.1L301.4 650.2L301.9 653.1L302.4 656.3L302.9 659.6L303.4 661L303.9 662L304.4 662.9L304.9 665.5L305.4 668.6L305.9 671.6L306.4 673L306.9 673.9L307.4 674.7L307.9 677.1L308.4 680L308.9 682.9L309.4 684L309.9 684.8L310.4 685.5L310.9 688L311.4 690.2L311.9 692.4L312.4 692.9L312.9 692.9L313.4 693L313.9 694.8L314.4 697L314.9 699.2L315.4 699.7L315.9 699.8L316.3 701.1L317.1 701.5L317.9 701.5L318.7 701.6L319.5 701.2L320.3 701.9" stroke="#ff00ff" stroke-width="1.5"/>
<path d="M45.6 701.2L46.2 701.2L46.8 701.2L47.4 701.2L48 701.2L48.6 701.2L49.2 701.2L49.8 701.2L50.4 701.2L51 701.2L51.6 701.2L52.2 701.2L52.8 701.2L53.4 701.2L54 701.2L54.6 701.2L55.2 701.2L55.8 701.2L56.4 701.2L57 701.2L57.6 701.2L58.2 701.2L58.8 701.2L59.4 701.2L60 701.2L60.6 701.2L61.2 701.2L61.8 701.2L62.4 701.2L63 701.2L63.6 701.2L64.2 701.2L64.8 701.2L65.4 701.2L66 701.2L66.6 701.2L67.2 701.2L67.8 701.2L68.4 701.2L69 701.2L69.6 701.2L70.2 701.2L70.8 701.2L71.4 701.2L72 701.2L72.6 701.2L73.2 701.2L73.8 701.2L74.4 701.2L75 701.2L75.6 701.2L76.2 701.2L76.8 701.2L77.4 701.2L78 701.2L78.6 701.2L79.2 701.2L79.8 701.2L80.4 701.2L81 701.2L81.6 701.2L82.2 701.2L82.8 701.2L83.4 701.2L84 701.2L84.6 701.2L85.2 701.2L85.8 701.2L86.4 701.2L87 701L87.6 700.8L88.2 700.5L88.8 699.9L89.4 699.1L90 698.2L90.6 697.2L91.2 696.2L91.8 695.1L92.4 693.8L93 692.6L93.6 691.4L94.2 690.3L94.8 689.1L95.4 688L96 686.9L96.6 685.8L97.2 684.8L97.8 683.8L98.4 682.8L99 681.9L99.6 680.9L100.2 679.9L100.8 678.9L101.4 677.9L102 677L102.6 676.3L103.2 675.7L103.8 675.3L104.4 675L105 674.7L105.6 674.5L106.2 674.3L106.8 674.1L107.4 674L108 674L108.6 674.1L109.2 674.4L109.8 674.8L110.4 675.3L111 675.9L111.6 676.5L112.2 677.2L112.8 678.2L113.4 679.5L114 681.1L114.6 682.9L115.2 684.8L115.8 686.7L116.4 688.6L117 690.6L117.6 692.8L118.2 695.1L118.8 697.4L119.4 699.5L120 701.4L120.6 703.1L121.2 704.7L121.8 706.2L122.4 707.6L123 708.9L123.6 710.1L124.2 711.2L124.8 712.2L125.4 713.2L126 714.1L126.6 714.9L127.2 715.7L127.8 716.5L128.4 717.1L129 717.7L129.6 718.1L130.2 718.6L130.8 719L131.4 719.4L132 719.7L132.6 720L133.2 720.3L133.8 720.6L134.4 720.8L135 721L135.6 721.2L136.2 721.3L136.8 721.5L137.4 721.6L138 721.8L138.6 721.9L139.2 722L139.8 722.2L140.4 722.3L141 722.4L141.6 722.5L142.2 722.5L142.8 722.6L143.4 722.7L144 722.8L144.6 722.9L145.2 723L145.8 723L146.4 723.1L147 723.2L147.6 723.3L148.2 723.3L148.8 723.4L149.4 723.5L150 723.5L150.6 723.5L151.2 723.6L151.8 723.6L152.4 723.6L153 723.6L153.6 723.6L154.2 723.6L154.8 723.5L155.4 723.5L156 723.4L156.6 723.4L157.2 723.3L157.8 723.2L158.4 723.2L159 723.1L159.6 723L160.2 722.9L160.8 722.8L161.4 722.7L162 722.6L162.6 722.5L163.2 722.3L163.8 722.1L164.4 721.9L165 721.7L165.6 721.4L166.2 721.1L166.8 720.8L167.4 720.5L168 720.2L168.6 719.8L169.2 719.5L169.8 719.1L170.4 718.8L171 718.4L171.6 718L172.2 717.6L172.8 717.1L173.4 716.6L174 716L174.6 715.4L175.2 714.8L175.8 714L176.4 713.2L177 712.2L177.6 711.2L178.2 710.2L178.8 709.1L179.4 708L180 707L180.6 706L181.2 704.9L181.8 703.9L182.4 702.8L183 701.7L183.6 700.5L184.2 699.4L184.8 698.2L185.4 697L186 695.7L186.6 694.3L187.2 693L187.8 691.6L188.4 690.3L189 688.9L189.6 687.6L190.2 686.4L190.8 685.2L191.4 684.1L192 683L192.6 682L193.2 680.9L193.8 679.8L194.4 678.8L195 677.8L195.6 676.9L196.2 676L196.8 675.2L197.4 674.6L198 674.1L198.6 673.6L199.2 673.2L199.8 672.8L200.4 672.4L201 672L201.6 671.7L202.2 671.5L202.8 671.2L203.4 671.1L204 671L204.6 671L205.2 671.1L205.8 671.3L206.4 671.6L207 671.9L207.6 672.3L208.2 672.7L208.8 673.1L209.4 673.6L210 674L210.6 674.5L211.2 675L211.8 675.6L212.4 676.3L213 677L213.6 677.8L214.2 678.6L214.8 679.4L215.4 680.4L216 681.4L216.6 682.5L217.2 683.6L217.8 684.7L218.4 685.9L219 687L219.6 688.1L220.2 689.3L220.8 690.5L221.4 691.8L222 693L222.6 694.2L223.2 695.4L223.8 696.5L224.4 697.6L225 698.7L225.6 699.7L226.2 700.8L226.8 701.7L227.4 702.7L228 703.6L228.6 704.5L229.2 705.3L229.8 706L230.4 706.8L231 707.6L231.6 708.3L232.2 709L232.8 709.6L233.4 710.3L234 710.8L234.6 711.3L235.2 711.7L235.8 712.1L236.4 712.5L237 712.9L237.6 713.2L238.2 713.6L238.8 713.9L239.4 714.2L240 714.4L240.6 714.7L241.2 714.8L241.8 715L242.4 715.1L243 715.2L243.6 715.2L244.2 715.3L244.8 715.4L245.4 715.5L246 715.6L246.6 715.6L247.2 715.7L247.8 715.7L248.4 715.7L249 715.8L249.6 715.8L250.2 715.8L250.8 715.8L251.4 715.8L252 715.7L252.6 715.7L253.2 715.6L253.8 715.6L254.4 715.5L255 715.4L255.6 715.4L256.2 715.3L256.8 715.2L257.4 715.1L258 715L258.6 714.9L259.2 714.8L259.8 714.7L260.4 714.6L261 714.5L261.6 714.3L262.2 714.2L262.8 714L263.4 713.9L264 713.7L264.6 713.5L265.2 713.3L265.8 713.1L266.4 712.9L267 712.7L267.6 712.4L268.2 712.1L268.8 711.7L269.4 711.3L270 711L270.6 710.6L271.2 710.2L271.8 709.8L272.4 709.4L273 709L273.6 708.6L274.2 708.2L274.8 707.8L275.4 707.4L276 707L276.6 706.6L277.2 706.2L277.8 705.8L278.4 705.3L279 704.8L279.6 704.4L280.2 703.9L280.8 703.3L281.4 702.8L282 702.2L282.6 701.6L283.2 700.9L283.8 700.2L284.4 699.5L285 698.8L285.6 698L286.2 697.2L286.8 696.5L287.4 695.7L288 695L288.6 694.3L289.2 693.5L289.8 692.8L290.4 692L291 691.2L291.6 690.5L292.2 689.7L292.8 689L293.4 688.2L294 687.5L294.6 686.8L295.2 686L295.8 685.3L296.4 684.5L297 683.8L297.6 683.1L298.2 682.5L298.8 682.1L299.4 681.8L300 681.5L300.6 681.2L301.2 680.9L301.8 680.7L302.4 680.5L303 680.4L303.6 680.3L304.2 680.2L304.8 680.2L305.4 680.2L306 680.3L306.6 680.3L307.2 680.4L307.8 680.5L308.4 680.6L309 680.9L309.6 681.3L310.2 681.8L310.8 682.3L311.4 682.9L312 683.5L312.6 684.1L313.2 684.8L313.8 685.5L314.4 686.3L315 687.1L315.6 688L316.2 688.8L316.8 689.6L317.4 690.5L318 691.3L318.6 692.2L319.2 693.1L319.8 694.1L320.4 695L321 696" stroke="#35e3e8"/>
<path d="M45.6 701.2L46.2 701.2L46.8 701.2L47.4 701.2L48 701.2L48.6 701.2L49.2 701.2L49.8 701.2L50.4 701.2L51 701.2L51.6 701.2L52.2 701.2L52.8 701.2L53.4 701.2L54 701.2L54.6 701.2L55.2 701.2L55.8 701.2L56.4 701.2L57 701.2L57.6 701.2L58.2 701.2L58.8 701.2L59.4 701.2L60 701.2L60.6 701.2L61.2 701.2L61.8 701.2L62.4 701.2L63 701.2L63.6 701.2L64.2 701.2L64.8 701.2L65.4 701.2L66 701.2L66.6 701.2L67.2 701.2L67.8 701.2L68.4 701.2L69 701.2L69.6 701.2L70.2 701.2L70.8 701.2L71.4 701.2L72 701.2L72.6 701.2L73.2 701.2L73.8 701.2L74.4 701.2L75 701.2L75.6 701.2L76.2 701.2L76.8 701.2L77.4 701.2L78 701.2L78.6 701.2L79.2 701.2L79.8 701.1L80.4 701.1L81 701.1L81.6 701.1L82.2 701.1L82.8 701.1L83.4 701.1L84 701.1L84.6 701.1L85.2 701.1L85.8 701.1L86.4 701.1L87 701.1L87.6 701.1L88.2 701.1L88.8 701.1L89.4 701.1L90 701.1L90.6 701.1L91.2 701L91.8 700.9L92.4 700.8L93 700.6L93.6 700.4L94.2 700.2L94.8 700L95.4 699.7L96 699.5L96.6 699.2L97.2 698.8L97.8 698.3L98.4 697.8L99 697.2L99.6 696.5L100.2 695.9L100.8 695.2L101.4 694.5L102 693.8L102.6 693L103.2 692.2L103.8 691.3L104.4 690.4L105 689.4L105.6 688.4L106.2 687.4L106.8 686.4L107.4 685.2L108 684L108.6 682.7L109.2 681.5L109.8 680.4L110.4 679.3L111 678.3L111.6 677.3L112.2 676.4L112.8 675.5L113.4 674.6L114 673.7L114.6 672.9L115.2 672L115.8 671.2L116.4 670.6L117 670L117.6 669.5L118.2 669L118.8 668.6L119.4 668.3L120 668L120.6 667.9L121.2 667.9L121.8 668L122.4 668.1L123 668.2L123.6 668.4L124.2 668.6L124.8 668.8L125.4 669.1L126 669.4L126.6 669.8L127.2 670.2L127.8 670.6L128.4 671.1L129 671.8L129.6 672.5L130.2 673.3L130.8 674.1L131.4 675L132 675.9L132.6 676.7L133.2 677.5L133.8 678.3L134.4 679.1L135 679.9L135.6 680.7L136.2 681.6L136.8 682.4L137.4 683.2L138 684L138.6 684.8L139.2 685.6L139.8 686.4L140.4 687.2L141 688L141.6 688.8L142.2 689.6L142.8 690.4L143.4 691.2L144 692.1L144.6 693L145.2 693.9L145.8 694.8L146.4 695.8L147 696.7L147.6 697.7L148.2 698.6L148.8 699.6L149.4 700.5L150 701.4L150.6 702.3L151.2 703.2L151.8 704.1L152.4 704.9L153 705.7L153.6 706.5L154.2 707.3L154.8 708.1L155.4 708.8L156 709.6L156.6 710.3L157.2 711.1L157.8 711.8L158.4 712.5L159 713.2L159.6 713.9L160.2 714.6L160.8 715.4L161.4 716.1L162 716.8L162.6 717.5L163.2 718.2L163.8 719L164.4 719.7L165 720.4L165.6 721.2L166.2 721.9L166.8 722.6L167.4 723.3L168 723.9L168.6 724.6L169.2 725.2L169.8 725.8L170.4 726.3L171 726.9L171.6 727.4L172.2 727.8L172.8 728.3L173.4 728.7L174 729.2L174.6 729.6L175.2 730L175.8 730.3L176.4 730.7L177 731L177.6 731.3L178.2 731.6L178.8 732L179.4 732.3L180 732.6L180.6 732.8L181.2 733L181.8 733.1L182.4 733.2L183 733.2L183.6 733.2L184.2 733.1L184.8 733.1L185.4 733.1L186 733L186.6 732.9L187.2 732.6L187.8 732.2L188.4 731.8L189 731.2L189.6 730.7L190.2 730L190.8 729.4L191.4 728.8L192 728.1L192.6 727.4L193.2 726.5L193.8 725.7L194.4 724.7L195 723.7L195.6 722.8L196.2 721.7L196.8 720.7L197.4 719.7L198 718.8L198.6 717.8L199.2 716.9L199.8 715.9L200.4 714.9L201 714L201.6 713L202.2 712L202.8 711L203.4 709.9L204 708.9L204.6 707.8L205.2 706.7L205.8 705.6L206.4 704.4L207 703.1L207.6 701.9L208.2 700.7L208.8 699.5L209.4 698.5L210 697.4L210.6 696.3L211.2 695.3L211.8 694.3L212.4 693.3L213 692.4L213.6 691.5L214.2 690.7L214.8 690L215.4 689.3L216 688.6L216.6 687.9L217.2 687.3L217.8 686.7L218.4 686.1L219 685.5L219.6 684.9L220.2 684.3L220.8 683.7L221.4 683.2L222 682.7L222.6 682.2L223.2 681.9L223.8 681.6L224.4 681.3L225 681L225.6 680.8L226.2 680.6L226.8 680.5L227.4 680.5L228 680.6L228.6 680.7L229.2 680.9L229.8 681.1L230.4 681.3L231 681.6L231.6 681.8L232.2 682.1L232.8 682.3L233.4 682.6L234 682.9L234.6 683.3L235.2 683.6L235.8 684L236.4 684.4L237 684.8L237.6 685.2L238.2 685.7L238.8 686.2L239.4 686.8L240 687.3L240.6 687.9L241.2 688.6L241.8 689.2L242.4 689.8L243 690.5L243.6 691.1L244.2 691.7L244.8 692.3L245.4 692.9L246 693.5L246.6 694.1L247.2 694.6L247.8 695.2L248.4 695.8L249 696.4L249.6 697L250.2 697.6L250.8 698.2L251.4 698.7L252 699.3L252.6 699.9L253.2 700.5L253.8 701.1L254.4 701.7L255 702.3L255.6 702.9L256.2 703.5L256.8 704.1L257.4 704.6L258 705.2L258.6 705.8L259.2 706.3L259.8 706.8L260.4 707.3L261 707.8L261.6 708.3L262.2 708.7L262.8 709.2L263.4 709.6L264 710L264.6 710.4L265.2 710.9L265.8 711.3L266.4 711.7L267 712.1L267.6 712.5L268.2 713L268.8 713.4L269.4 713.8L270 714.3L270.6 714.8L271.2 715.3L271.8 715.8L272.4 716.2L273 716.7L273.6 717.1L274.2 717.5L274.8 717.9L275.4 718.2L276 718.5L276.6 718.8L277.2 719L277.8 719.3L278.4 719.5L279 719.8L279.6 720L280.2 720.2L280.8 720.4L281.4 720.6L282 720.7L282.6 720.8L283.2 720.9L283.8 720.9L284.4 720.9L285 720.8L285.6 720.6L286.2 720.3L286.8 720L287.4 719.7L288 719.3L288.6 718.9L289.2 718.5L289.8 718.1L290.4 717.7L291 717.2L291.6 716.7L292.2 716L292.8 715.4L293.4 714.7L294 713.9L294.6 713.2L295.2 712.4L295.8 711.7L296.4 711L297 710.3L297.6 709.5L298.2 708.8L298.8 708.1L299.4 707.4L300 706.7L300.6 705.9L301.2 705.2L301.8 704.5L302.4 703.7L303 703L303.6 702.3L304.2 701.5L304.8 700.8L305.4 700L306 699.3L306.6 698.6L307.2 697.8L307.8 697.1L308.4 696.4L309 695.7L309.6 695.1L310.2 694.5L310.8 693.9L311.4 693.3L312 692.7L312.6 692.1L313.2 691.5L313.8 691L314.4 690.5L315 690L315.6 689.5L316.2 689.1L316.8 688.6L317.4 688.2L318 687.8L318.6 687.4L319.2 687L319.8 686.7L320.4 686.3L321 686" stroke="#f0f028"/>
<path d="M45.6 701.2L46.2 701.2L46.8 701.2L47.4 701.2L48 701.2L48.6 701.2L49.2 701.2L49.8 701.2L50.4 701.2L51 701.2L51.6 701.2L52.2 701.2L52.8 701.2L53.4 701.2L54 701.2L54.6 701.2L55.2 701.2L55.8 701.2L56.4 701.2L57 701.2L57.6 701.2L58.2 701.2L58.8 701.2L59.4 701.2L60 701.2L60.6 701.2L61.2 701.2L61.8 701.2L62.4 701.2L63 701.2L63.6 701.2L64.2 701.2L64.8 701.2L65.4 701.2L66 701.2L66.6 701.2L67.2 701.2L67.8 701.2L68.4 701.2L69 701.2L69.6 701.2L70.2 701.2L70.8 701.2L71.4 701.2L72 701.2L72.6 701.2L73.2 701.2L73.8 701.2L74.4 701.2L75 701.2L75.6 701.2L76.2 701.2L76.8 701.2L77.4 701.2L78 701.2L78.6 701.2L79.2 701.2L79.8 701.2L80.4 701.2L81 701.2L81.6 701.2L82.2 701.2L82.8 701.2L83.4 701.2L84 701.2L84.6 701.2L85.2 701.2L85.8 701.2L86.4 701.2L87 701.1L87.6 701.1L88.2 701L88.8 700.8L89.4 700.7L90 700.5L90.6 700.4L91.2 700.2L91.8 700.1L92.4 699.9L93 699.7L93.6 699.6L94.2 699.4L94.8 699.2L95.4 698.9L96 698.7L96.6 698.4L97.2 698L97.8 697.5L98.4 696.8L99 696.1L99.6 695.3L100.2 694.3L100.8 693.3L101.4 692.3L102 691.2L102.6 690L103.2 688.8L103.8 687.6L104.4 686.2L105 684.7L105.6 683L106.2 681.3L106.8 679.4L107.4 677.4L108 675.4L108.6 673.4L109.2 671.4L109.8 669.4L110.4 667.3L111 665.1L111.6 662.9L112.2 660.6L112.8 658.3L113.4 655.9L114 653.6L114.6 651.3L115.2 648.9L115.8 646.7L116.4 644.4L117 642.2L117.6 639.9L118.2 637.7L118.8 635.4L119.4 633.2L120 631L120.6 628.7L121.2 626.4L121.8 624.1L122.4 621.7L123 619.3L123.6 616.8L124.2 614.1L124.8 611.4L125.4 608.5L126 605.7L126.6 602.9L127.2 600.1L127.8 597.4L128.4 594.9L129 592.5L129.6 590.3L130.2 588.3L130.8 586.5L131.4 584.9L132 583.3L132.6 581.8L133.2 580.3L133.8 579L134.4 577.7L135 576.4L135.6 575.2L136.2 574L136.8 572.9L137.4 571.9L138 570.8L138.6 569.7L139.2 568.6L139.8 567.6L140.4 566.7L141 565.9L141.6 565.2L142.2 564.8L142.8 564.4L143.4 564.1L144 563.8L144.6 563.5L145.2 563.3L145.8 563L146.4 562.9L147 562.8L147.6 562.7L148.2 562.7L148.8 562.8L149.4 562.9L150 563.1L150.6 563.3L151.2 563.6L151.8 564L152.4 564.3L153 564.7L153.6 565.1L154.2 565.5L154.8 566L155.4 566.6L156 567.3L156.6 568.2L157.2 569.1L157.8 570.2L158.4 571.2L159 572.4L159.6 573.6L160.2 574.8L160.8 576.1L161.4 577.5L162 579.1L162.6 580.8L163.2 582.5L163.8 584.4L164.4 586.3L165 588.3L165.6 590.3L166.2 592.4L166.8 594.7L167.4 597L168 599.5L168.6 602L169.2 604.4L169.8 606.9L170.4 609.2L171 611.5L171.6 613.8L172.2 616L172.8 618.2L173.4 620.4L174 622.6L174.6 624.7L175.2 626.8L175.8 628.9L176.4 631L177 633.1L177.6 635.1L178.2 637.2L178.8 639.2L179.4 641.2L180 643.2L180.6 645.2L181.2 647.1L181.8 649.1L182.4 651L183 653L183.6 655L184.2 656.9L184.8 658.9L185.4 660.9L186 662.9L186.6 664.9L187.2 666.9L187.8 668.9L188.4 670.8L189 672.7L189.6 674.5L190.2 676.2L190.8 677.9L191.4 679.5L192 681L192.6 682.5L193.2 684L193.8 685.4L194.4 686.7L195 688L195.6 689.2L196.2 690.4L196.8 691.5L197.4 692.6L198 693.6L198.6 694.5L199.2 695.2L199.8 695.9L200.4 696.6L201 697.1L201.6 697.6L202.2 697.9L202.8 698L203.4 697.9L204 697.8L204.6 697.6L205.2 697.4L205.8 697.1L206.4 696.8L207 696.3L207.6 695.8L208.2 695.1L208.8 694.5L209.4 693.7L210 692.9L210.6 692L211.2 691.1L211.8 690L212.4 688.9L213 687.8L213.6 686.7L214.2 685.6L214.8 684.5L215.4 683.4L216 682.2L216.6 681L217.2 679.7L217.8 678.5L218.4 677.2L219 675.8L219.6 674.4L220.2 673L220.8 671.5L221.4 669.9L222 668.3L222.6 666.7L223.2 665.1L223.8 663.5L224.4 662L225 660.5L225.6 659L226.2 657.5L226.8 656L227.4 654.6L228 653.1L228.6 651.7L229.2 650.3L229.8 648.9L230.4 647.5L231 646.1L231.6 644.6L232.2 643.3L232.8 641.9L233.4 640.6L234 639.3L234.6 638.1L235.2 636.9L235.8 635.8L236.4 634.7L237 633.5L237.6 632.5L238.2 631.5L238.8 630.6L239.4 629.7L240 629L240.6 628.3L241.2 627.7L241.8 627.1L242.4 626.5L243 625.9L243.6 625.4L244.2 625L244.8 624.6L245.4 624.3L246 624L246.6 623.8L247.2 623.6L247.8 623.4L248.4 623.2L249 623L249.6 622.8L250.2 622.7L250.8 622.6L251.4 622.6L252 622.6L252.6 622.7L253.2 622.8L253.8 623L254.4 623.2L255 623.4L255.6 623.7L256.2 624L256.8 624.3L257.4 624.7L258 625L258.6 625.4L259.2 625.8L259.8 626.4L260.4 627L261 627.6L261.6 628.3L262.2 629L262.8 629.8L263.4 630.5L264 631.3L264.6 632.2L265.2 633.2L265.8 634.1L266.4 635.2L267 636.2L267.6 637.2L268.2 638.3L268.8 639.3L269.4 640.3L270 641.4L270.6 642.5L271.2 643.6L271.8 644.7L272.4 645.9L273 647L273.6 648.2L274.2 649.4L274.8 650.6L275.4 651.9L276 653.2L276.6 654.5L277.2 655.8L277.8 657.1L278.4 658.4L279 659.8L279.6 661.1L280.2 662.4L280.8 663.7L281.4 665L282 666.3L282.6 667.7L283.2 669.1L283.8 670.5L284.4 672L285 673.7L285.6 675.4L286.2 677.1L286.8 678.9L287.4 680.6L288 682.3L288.6 683.9L289.2 685.4L289.8 686.8L290.4 688.2L291 689.6L291.6 690.9L292.2 692.1L292.8 693.3L293.4 694.5L294 695.5L294.6 696.5L295.2 697.5L295.8 698.4L296.4 699.2L297 700L297.6 700.6L298.2 701.2L298.8 701.6L299.4 702.1L300 702.4L300.6 702.5L301.2 702.5L301.8 702.4L302.4 702.3L303 702.2L303.6 702.1L304.2 701.9L304.8 701.7L305.4 701.4L306 701L306.6 700.5L307.2 700L307.8 699.5L308.4 698.9L309 698.3L309.6 697.7L310.2 697.1L310.8 696.4L311.4 695.6L312 694.8L312.6 694L313.2 693.1L313.8 692.2L314.4 691.4L315 690.5L315.6 689.6L316.2 688.8L316.8 687.9L317.4 687L318 686.1L318.6 685.2L319.2 684.3L319.8 683.4L320.4 682.4L321 681.5" stroke="#46e246"/>
<path d="M45.6 701.4L46.4 701.7L47.2 701L48 701.5L48.8 701L49.6 700.9L50.4 701.4L51.2 701.1L52 701.4L52.8 701L53.6 701.7L54.4 701.3L55.2 701L56 701.4L56.8 701.5L57.6 701.1L58.4 701.4L59.2 701.8L60 701.5L60.8 701.3L61.6 701.2L62.4 701.5L63.2 700.9L64 700.6L64.8 701.1L65.6 701L66.4 701.7L67.2 701.3L68 701.1L68.8 701L69.6 701.4L70.4 701.1L71.2 701.2L72 701.3L72.8 701.3L73.6 701.3L74.4 701.3L75.2 701.6L76 701.7L76.8 700.9L77.6 702L78.4 701.3L79.2 701.6L80 701.1L80.8 701.4L81.6 701.4L82.4 701.3L83.2 701.5L84 701.5" stroke="#1a2a1a" stroke-width="0.9" stroke-opacity="0.55"/>
</g>
<rect x="45.1" y="532.7" width="275.9" height="210.6" fill="none" stroke="#b4b4b4" stroke-width="1.6"/>
<path d="M84.5 743.3v-2.8M84.5 532.7v2.8M123.9 743.3v-2.8M123.9 532.7v2.8M163.3 743.3v-2.8M163.3 532.7v2.8M202.8 743.3v-2.8M202.8 532.7v2.8M242.2 743.3v-2.8M242.2 532.7v2.8M281.6 743.3v-2.8M281.6 532.7v2.8M45.1 701.2h2.8M321.0 701.2h-2.8M45.1 659.1h2.8M321.0 659.1h-2.8M45.1 616.9h2.8M321.0 616.9h-2.8M45.1 574.8h2.8M321.0 574.8h-2.8" stroke="#b4b4b4" stroke-width="1"/>
<g font-family='"Liberation Sans", Arial, sans-serif' font-size="10" fill="#1e1e1e" stroke="#1e1e1e" stroke-width="0.3">
<text x="42" y="748.6" text-anchor="end">-1</text>
<text x="324" y="747.7">-5</text>
<text x="42" y="706.5" text-anchor="end">0</text>
<text x="324" y="705.6">0</text>
<text x="42" y="664.4" text-anchor="end">1</text>
<text x="324" y="663.5">5</text>
<text x="42" y="622.2" text-anchor="end">2</text>
<text x="324" y="621.3">10</text>
<text x="42" y="580.1" text-anchor="end">3</text>
<text x="324" y="579.2">15</text>
<text x="42" y="538.0" text-anchor="end">4</text>
<text x="324" y="537.1">20</text>
<text x="45.1" y="757.1" text-anchor="middle">0.075</text>
<text x="84.5" y="757.1" text-anchor="middle">0.1</text>
<text x="123.9" y="757.1" text-anchor="middle">0.125</text>
<text x="163.3" y="757.1" text-anchor="middle">0.15</text>
<text x="202.8" y="757.1" text-anchor="middle">0.175</text>
<text x="242.2" y="757.1" text-anchor="middle">0.2</text>
<text x="281.6" y="757.1" text-anchor="middle">0.225</text>
<text x="321.0" y="757.1" text-anchor="middle">0.25</text>
<text x="183.5" y="770.6" text-anchor="middle" font-size="10.3" textLength="38.6" lengthAdjust="spacingAndGlyphs">Time (s)</text>
<text transform="translate(16.3 646.2) rotate(-90)" text-anchor="middle" font-size="10.25">Force (N), Current (A),</text>
<text transform="translate(29.6 638.3) rotate(-90)" text-anchor="middle" font-size="10.25">Velocity (m/s), Acc (10²m/s²)</text>
<text transform="translate(346.3 638.0) rotate(-90)" text-anchor="middle">Displacement (mm)</text>
</g>
<g font-family='"Liberation Sans", Arial, sans-serif' font-size="10.9" font-weight="bold" fill="#000">
<text x="119.7" y="529.3">125V</text>
<text x="153.6" y="529.3">01.5ms</text>
<text x="200.0" y="529.3">0.076mm</text>
</g>
<rect x="246.3" y="536.8" width="71.1" height="69.2" fill="#fff" stroke="#b4b4b4" stroke-width="1"/>
<g font-family='"Liberation Sans", Arial, sans-serif' font-size="9.1" fill="#1e1e1e" stroke="#1e1e1e" stroke-width="0.3">
<path d="M248.5 543.0H260.4" stroke="#ff00ff" stroke-width="1.1"/>
<text x="262.0" y="546.8">Force</text>
<path d="M248.5 554.5H260.4" stroke="#4a4a4a" stroke-width="1.1"/>
<text x="262.0" y="558.3">Current</text>
<path d="M248.5 566.0H260.4" stroke="#35e3e8" stroke-width="1.1"/>
<text x="262.0" y="569.8">Acceleration</text>
<path d="M248.5 577.6H260.4" stroke="#f0f028" stroke-width="1.1"/>
<text x="262.0" y="581.4">Velocity</text>
<path d="M248.5 589.1H260.4" stroke="#dc8a62" stroke-width="1.1"/>
<text x="262.0" y="592.9">Trigger</text>
<path d="M248.5 600.6H260.4" stroke="#46e246" stroke-width="1.1"/>
<text x="262.0" y="604.4">Displacement</text>
</g>
</svg>
</body></html>
